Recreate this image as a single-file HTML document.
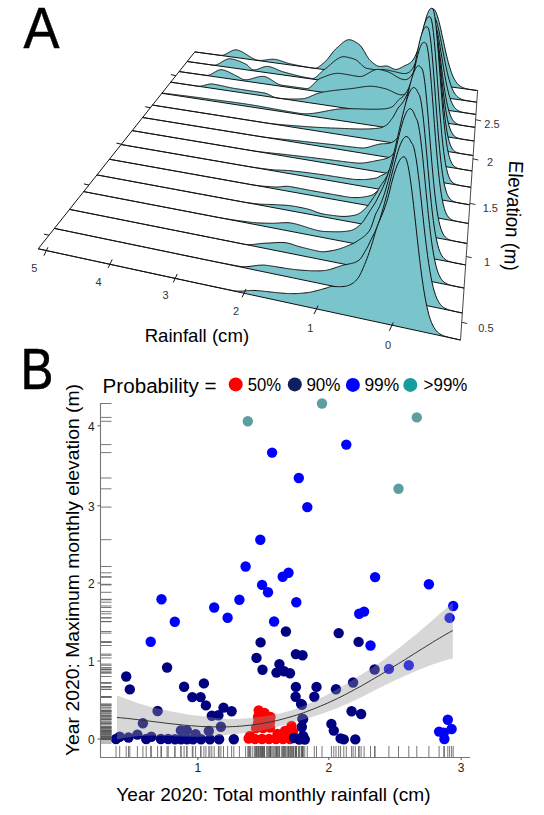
<!DOCTYPE html>
<html><head><meta charset="utf-8"><style>
html,body{margin:0;padding:0;background:#fff;}
svg{display:block;}
text{font-family:"Liberation Sans",sans-serif;}
.tk{font-size:12px;fill:#222;}
.tkA{font-size:11px;fill:#333;}
</style></head><body>
<svg width="544" height="815" viewBox="0 0 544 815">
<rect width="544" height="815" fill="#fff"/>
<path d="M194.80,51.90 L194.80,51.90 L195.45,51.98 L196.09,52.07 L196.74,52.16 L197.39,52.25 L198.03,52.33 L198.68,52.42 L199.33,52.51 L199.98,52.60 L200.63,52.68 L201.28,52.77 L201.92,52.86 L202.57,52.95 L203.22,53.03 L203.87,53.12 L204.52,53.21 L205.17,53.29 L205.83,53.38 L206.48,53.47 L207.13,53.55 L207.78,53.64 L208.43,53.73 L209.08,53.82 L209.74,53.90 L210.39,53.99 L211.04,54.08 L211.70,54.16 L212.35,54.25 L213.00,54.33 L213.66,54.42 L214.31,54.51 L214.97,54.59 L215.62,54.68 L216.28,54.77 L216.93,54.85 L217.59,54.94 L218.25,55.02 L218.90,55.11 L219.56,55.19 L220.22,55.28 L220.88,55.36 L221.53,55.38 L222.19,55.33 L222.85,55.22 L223.51,55.05 L224.17,54.83 L224.83,54.57 L225.49,54.27 L226.15,53.94 L226.81,53.58 L227.47,53.21 L228.13,52.83 L228.79,52.45 L229.45,52.07 L230.11,51.70 L230.77,51.34 L231.44,51.00 L232.10,50.70 L232.76,50.43 L233.43,50.20 L234.09,50.03 L234.75,49.90 L235.42,49.84 L236.08,49.85 L236.75,49.93 L237.41,50.06 L238.08,50.23 L238.74,50.43 L239.41,50.66 L240.07,50.93 L240.74,51.22 L241.41,51.54 L242.07,51.88 L242.74,52.24 L243.41,52.62 L244.08,53.02 L244.75,53.42 L245.41,53.84 L246.08,54.27 L246.75,54.70 L247.42,55.13 L248.09,55.56 L248.76,55.99 L249.43,56.42 L250.10,56.83 L250.77,57.24 L251.45,57.63 L252.12,58.01 L252.79,58.37 L253.46,58.70 L254.13,59.02 L254.81,59.31 L255.48,59.57 L256.15,59.79 L256.83,59.99 L257.50,60.15 L258.18,60.27 L258.85,60.35 L259.52,60.40 L260.20,60.42 L260.88,60.43 L261.55,60.41 L262.23,60.37 L262.90,60.31 L263.58,60.24 L264.26,60.16 L264.94,60.07 L265.61,59.97 L266.29,59.87 L266.97,59.77 L267.65,59.67 L268.33,59.58 L269.01,59.49 L269.69,59.41 L270.37,59.34 L271.05,59.29 L271.73,59.25 L272.41,59.23 L273.09,59.23 L273.77,59.26 L274.45,59.32 L275.13,59.40 L275.82,59.51 L276.50,59.64 L277.18,59.79 L277.86,59.96 L278.55,60.14 L279.23,60.33 L279.92,60.54 L280.60,60.76 L281.29,60.98 L281.97,61.21 L282.66,61.45 L283.34,61.69 L284.03,61.93 L284.72,62.17 L285.40,62.40 L286.09,62.63 L286.78,62.85 L287.46,63.07 L288.15,63.27 L288.84,63.46 L289.53,63.64 L290.22,63.80 L290.91,63.95 L291.60,64.09 L292.29,64.24 L292.98,64.38 L293.67,64.53 L294.36,64.67 L295.05,64.82 L295.74,64.96 L296.43,65.10 L297.12,65.24 L297.82,65.38 L298.51,65.52 L299.20,65.66 L299.90,65.79 L300.59,65.93 L301.28,66.06 L301.98,66.20 L302.67,66.33 L303.37,66.46 L304.06,66.59 L304.76,66.72 L305.45,66.84 L306.15,66.96 L306.85,67.09 L307.54,67.21 L308.24,67.32 L308.94,67.44 L309.64,67.55 L310.33,67.66 L311.03,67.77 L311.73,67.88 L312.43,67.99 L313.13,68.09 L313.83,68.19 L314.53,68.28 L315.23,68.31 L315.93,68.22 L316.63,68.03 L317.33,67.74 L318.04,67.38 L318.74,66.94 L319.44,66.45 L320.14,65.91 L320.85,65.34 L321.55,64.74 L322.25,64.13 L322.96,63.53 L323.66,62.93 L324.37,62.36 L325.07,61.75 L325.78,61.07 L326.48,60.32 L327.19,59.52 L327.89,58.66 L328.60,57.77 L329.31,56.86 L330.01,55.92 L330.72,54.98 L331.43,54.04 L332.14,53.11 L332.85,52.20 L333.56,51.33 L334.27,50.50 L334.97,49.71 L335.68,48.99 L336.39,48.34 L337.11,47.74 L337.82,47.11 L338.53,46.47 L339.24,45.82 L339.95,45.17 L340.66,44.52 L341.38,43.88 L342.09,43.26 L342.80,42.67 L343.52,42.11 L344.23,41.60 L344.94,41.12 L345.66,40.71 L346.37,40.35 L347.09,40.07 L347.80,39.86 L348.52,39.73 L349.24,39.69 L349.95,39.75 L350.67,39.88 L351.39,40.07 L352.10,40.31 L352.82,40.60 L353.54,40.93 L354.26,41.30 L354.98,41.70 L355.70,42.13 L356.42,42.58 L357.14,43.05 L357.86,43.54 L358.58,44.03 L359.30,44.55 L360.02,45.22 L360.74,46.04 L361.46,46.98 L362.18,48.03 L362.91,49.16 L363.63,50.35 L364.35,51.59 L365.08,52.84 L365.80,54.10 L366.52,55.34 L367.25,56.54 L367.97,57.68 L368.70,58.74 L369.43,59.70 L370.15,60.53 L370.88,61.22 L371.60,61.82 L372.33,62.42 L373.06,63.02 L373.79,63.60 L374.51,64.15 L375.24,64.67 L375.97,65.14 L376.70,65.55 L377.43,65.90 L378.16,66.17 L378.89,66.35 L379.62,66.44 L380.35,66.46 L381.08,66.44 L381.81,66.37 L382.55,66.29 L383.28,66.19 L384.01,66.10 L384.74,66.02 L385.48,65.98 L386.21,65.98 L386.94,66.04 L387.68,66.19 L388.41,66.42 L389.15,66.73 L389.88,67.08 L390.62,67.47 L391.35,67.87 L392.09,68.26 L392.83,68.62 L393.56,68.94 L394.30,69.19 L395.04,69.36 L395.78,69.43 L396.52,69.39 L397.25,69.26 L397.99,69.05 L398.73,68.78 L399.47,68.46 L400.21,68.10 L400.95,67.71 L401.69,67.30 L402.44,66.89 L403.18,66.48 L403.92,66.08 L404.66,65.71 L405.40,65.36 L406.15,65.04 L406.89,64.73 L407.63,64.40 L408.38,64.03 L409.12,63.60 L409.87,63.11 L410.61,62.52 L411.36,61.84 L412.10,61.04 L412.85,60.10 L413.60,59.01 L414.34,57.77 L415.09,56.35 L415.84,54.76 L416.59,52.98 L417.33,51.04 L418.08,49.10 L418.83,47.18 L419.58,45.22 L420.33,43.20 L421.08,41.09 L421.83,38.85 L422.58,36.47 L423.33,33.93 L424.09,31.21 L424.84,28.31 L425.59,25.29 L426.34,22.41 L427.09,19.70 L427.85,17.21 L428.60,14.98 L429.36,13.05 L430.11,11.44 L430.87,10.20 L431.62,9.33 L432.38,8.86 L433.13,8.80 L433.89,9.15 L434.64,9.93 L435.40,11.13 L436.16,12.71 L436.92,14.66 L437.67,16.96 L438.43,19.56 L439.19,22.42 L439.95,25.51 L440.71,28.77 L441.47,32.18 L442.23,35.67 L442.99,39.22 L443.75,42.77 L444.51,46.30 L445.27,49.76 L446.04,53.12 L446.80,56.37 L447.56,59.47 L448.33,62.40 L449.09,65.17 L449.85,67.74 L450.62,70.13 L451.38,72.33 L452.15,74.34 L452.91,76.17 L453.68,77.82 L454.44,79.29 L455.21,80.61 L455.98,81.78 L456.74,82.82 L457.51,83.73 L458.28,84.53 L459.05,85.23 L459.82,85.84 L460.59,86.37 L461.36,86.83 L462.13,87.23 L462.90,87.58 L463.67,87.89 L464.44,88.16 L465.21,88.40 L465.98,88.61 L466.75,88.80 L467.52,88.98 L468.30,89.14 L469.07,89.29 L469.84,89.43 L470.62,89.56 L471.39,89.69 L472.17,89.81 L472.94,89.93 L473.72,90.04 L474.49,90.16 L475.27,90.27 L476.05,90.38 L476.82,90.49 L477.60,90.59 L477.60,90.60 Z" fill="#7ac4cc" stroke="#111" stroke-width="1"/>
<path d="M187.17,61.50 L187.17,61.50 L187.83,61.59 L188.49,61.68 L189.15,61.78 L189.81,61.87 L190.47,61.96 L191.13,62.05 L191.80,62.15 L192.46,62.24 L193.12,62.33 L193.78,62.43 L194.45,62.52 L195.11,62.61 L195.77,62.71 L196.44,62.80 L197.10,62.89 L197.77,62.99 L198.43,63.08 L199.10,63.17 L199.76,63.27 L200.43,63.36 L201.10,63.45 L201.76,63.55 L202.43,63.64 L203.10,63.74 L203.77,63.83 L204.43,63.92 L205.10,64.02 L205.77,64.11 L206.44,64.20 L207.11,64.30 L207.78,64.39 L208.45,64.49 L209.12,64.58 L209.79,64.68 L210.46,64.77 L211.13,64.86 L211.80,64.96 L212.47,65.05 L213.14,65.15 L213.82,65.20 L214.49,65.18 L215.16,65.10 L215.83,64.95 L216.51,64.75 L217.18,64.50 L217.86,64.21 L218.53,63.89 L219.20,63.53 L219.88,63.15 L220.55,62.76 L221.23,62.35 L221.91,61.93 L222.58,61.52 L223.26,61.11 L223.94,60.71 L224.61,60.34 L225.29,59.98 L225.97,59.66 L226.65,59.38 L227.32,59.13 L228.00,58.94 L228.68,58.80 L229.36,58.73 L230.04,58.72 L230.72,58.78 L231.40,58.88 L232.08,59.00 L232.76,59.14 L233.44,59.30 L234.13,59.47 L234.81,59.65 L235.49,59.85 L236.17,60.06 L236.85,60.29 L237.54,60.52 L238.22,60.77 L238.90,61.03 L239.59,61.30 L240.27,61.58 L240.96,61.86 L241.64,62.16 L242.33,62.46 L243.01,62.77 L243.70,63.09 L244.39,63.41 L245.07,63.74 L245.76,64.07 L246.45,64.43 L247.13,64.92 L247.82,65.54 L248.51,66.23 L249.20,66.96 L249.89,67.68 L250.58,68.37 L251.27,68.96 L251.96,69.43 L252.65,69.73 L253.34,69.84 L254.03,69.87 L254.72,69.84 L255.41,69.76 L256.10,69.64 L256.79,69.47 L257.48,69.27 L258.18,69.04 L258.87,68.80 L259.56,68.53 L260.26,68.26 L260.95,67.98 L261.65,67.71 L262.34,67.44 L263.04,67.20 L263.73,66.97 L264.43,66.77 L265.12,66.61 L265.82,66.49 L266.51,66.41 L267.21,66.39 L267.91,66.42 L268.61,66.52 L269.30,66.65 L270.00,66.81 L270.70,67.00 L271.40,67.21 L272.10,67.44 L272.80,67.69 L273.50,67.96 L274.20,68.24 L274.90,68.53 L275.60,68.83 L276.30,69.14 L277.00,69.45 L277.70,69.75 L278.41,70.06 L279.11,70.36 L279.81,70.65 L280.51,70.93 L281.22,71.20 L281.92,71.46 L282.62,71.69 L283.33,71.90 L284.03,72.10 L284.74,72.29 L285.44,72.48 L286.15,72.67 L286.86,72.87 L287.56,73.06 L288.27,73.25 L288.98,73.44 L289.68,73.63 L290.39,73.82 L291.10,74.01 L291.81,74.19 L292.52,74.38 L293.22,74.57 L293.93,74.75 L294.64,74.93 L295.35,75.11 L296.06,75.29 L296.78,75.46 L297.49,75.64 L298.20,75.81 L298.91,75.98 L299.62,76.14 L300.33,76.31 L301.05,76.47 L301.76,76.63 L302.47,76.78 L303.19,76.94 L303.90,77.09 L304.61,77.23 L305.33,77.37 L306.04,77.51 L306.76,77.65 L307.48,77.78 L308.19,77.90 L308.91,78.03 L309.63,78.14 L310.34,78.26 L311.06,78.37 L311.78,78.47 L312.50,78.53 L313.21,78.46 L313.93,78.26 L314.65,77.95 L315.37,77.54 L316.09,77.05 L316.81,76.48 L317.53,75.85 L318.25,75.17 L318.97,74.46 L319.70,73.73 L320.42,73.00 L321.14,72.27 L321.86,71.56 L322.58,70.89 L323.31,70.26 L324.03,69.70 L324.76,69.19 L325.48,68.67 L326.20,68.12 L326.93,67.55 L327.65,66.96 L328.38,66.35 L329.11,65.73 L329.83,65.10 L330.56,64.46 L331.29,63.82 L332.01,63.19 L332.74,62.56 L333.47,61.95 L334.20,61.35 L334.93,60.77 L335.66,60.21 L336.39,59.67 L337.12,59.17 L337.85,58.71 L338.58,58.28 L339.31,57.89 L340.04,57.55 L340.77,57.26 L341.50,57.03 L342.23,56.85 L342.97,56.74 L343.70,56.69 L344.43,56.71 L345.17,56.80 L345.90,56.92 L346.63,57.05 L347.37,57.20 L348.10,57.36 L348.84,57.54 L349.58,57.72 L350.31,57.92 L351.05,58.13 L351.79,58.35 L352.52,58.57 L353.26,58.81 L354.00,59.04 L354.74,59.29 L355.47,59.61 L356.21,60.04 L356.95,60.56 L357.69,61.15 L358.43,61.80 L359.17,62.49 L359.91,63.20 L360.65,63.93 L361.40,64.65 L362.14,65.36 L362.88,66.02 L363.62,66.64 L364.37,67.19 L365.11,67.66 L365.85,68.04 L366.60,68.30 L367.34,68.45 L368.09,68.60 L368.83,68.74 L369.58,68.87 L370.32,69.01 L371.07,69.14 L371.81,69.27 L372.56,69.39 L373.31,69.51 L374.06,69.63 L374.80,69.74 L375.55,69.85 L376.30,69.96 L377.05,70.06 L377.80,70.06 L378.55,69.98 L379.30,69.84 L380.05,69.67 L380.80,69.52 L381.55,69.41 L382.30,69.38 L383.05,69.45 L383.81,69.55 L384.56,69.66 L385.31,69.78 L386.07,69.90 L386.82,70.03 L387.57,70.16 L388.33,70.30 L389.08,70.45 L389.84,70.60 L390.59,70.75 L391.35,70.92 L392.11,71.09 L392.86,71.26 L393.62,71.44 L394.38,71.62 L395.13,71.81 L395.89,72.00 L396.65,72.19 L397.41,72.38 L398.17,72.57 L398.93,72.75 L399.69,72.93 L400.45,73.09 L401.21,73.24 L401.97,73.37 L402.73,73.47 L403.49,73.54 L404.26,73.57 L405.02,73.55 L405.78,73.48 L406.55,73.33 L407.31,73.11 L408.07,72.80 L408.84,72.39 L409.60,71.87 L410.37,71.21 L411.13,70.42 L411.90,69.48 L412.67,68.38 L413.43,67.11 L414.20,65.65 L414.97,64.01 L415.73,62.19 L416.50,60.17 L417.27,57.97 L418.04,55.60 L418.81,53.06 L419.58,50.37 L420.35,47.56 L421.12,44.64 L421.89,41.66 L422.66,38.64 L423.43,35.63 L424.21,32.66 L424.98,29.78 L425.75,27.04 L426.52,24.49 L427.30,22.16 L428.07,20.11 L428.85,18.38 L429.62,17.01 L430.40,16.03 L431.17,15.47 L431.95,15.35 L432.72,15.69 L433.50,16.16 L434.28,16.80 L435.05,17.97 L435.83,19.67 L436.61,21.86 L437.39,24.50 L438.17,27.54 L438.95,30.92 L439.72,34.59 L440.50,38.47 L441.29,42.51 L442.07,46.64 L442.85,50.80 L443.63,54.94 L444.41,58.99 L445.19,62.93 L445.98,66.71 L446.76,70.29 L447.54,73.66 L448.33,76.79 L449.11,79.68 L449.89,82.32 L450.68,84.72 L451.47,86.87 L452.25,88.79 L453.04,90.49 L453.82,91.99 L454.61,93.29 L455.40,94.43 L456.19,95.41 L456.97,96.25 L457.76,96.98 L458.55,97.59 L459.34,98.12 L460.13,98.57 L460.92,98.96 L461.71,99.29 L462.50,99.58 L463.29,99.83 L464.08,100.05 L464.88,100.25 L465.67,100.43 L466.46,100.59 L467.26,100.74 L468.05,100.88 L468.84,101.01 L469.64,101.14 L470.43,101.27 L471.23,101.39 L472.02,101.50 L472.82,101.62 L473.62,101.74 L474.41,101.85 L475.21,101.96 L476.01,102.08 L476.81,102.19 L476.81,102.19 Z" fill="#7ac4cc" stroke="#111" stroke-width="1"/>
<path d="M179.15,71.57 L179.15,71.57 L179.83,71.66 L180.50,71.76 L181.18,71.85 L181.85,71.95 L182.53,72.04 L183.21,72.14 L183.88,72.24 L184.56,72.33 L185.24,72.43 L185.92,72.52 L186.59,72.62 L187.27,72.71 L187.95,72.80 L188.63,72.90 L189.31,72.99 L189.99,73.09 L190.67,73.18 L191.35,73.28 L192.03,73.37 L192.71,73.46 L193.39,73.56 L194.08,73.65 L194.76,73.74 L195.44,73.84 L196.12,73.93 L196.80,74.02 L197.49,74.11 L198.17,74.21 L198.86,74.30 L199.54,74.39 L200.22,74.48 L200.91,74.57 L201.59,74.66 L202.28,74.76 L202.97,74.85 L203.65,74.94 L204.34,75.03 L205.02,75.12 L205.71,75.21 L206.40,75.30 L207.09,75.37 L207.78,75.35 L208.46,75.25 L209.15,75.08 L209.84,74.85 L210.53,74.56 L211.22,74.23 L211.91,73.86 L212.60,73.46 L213.29,73.05 L213.98,72.62 L214.67,72.19 L215.37,71.77 L216.06,71.37 L216.75,70.98 L217.44,70.63 L218.14,70.33 L218.83,70.07 L219.52,69.87 L220.22,69.74 L220.91,69.68 L221.60,69.71 L222.30,69.82 L222.99,69.96 L223.69,70.13 L224.39,70.32 L225.08,70.54 L225.78,70.79 L226.48,71.05 L227.17,71.34 L227.87,71.64 L228.57,71.96 L229.27,72.29 L229.97,72.63 L230.66,72.98 L231.36,73.34 L232.06,73.70 L232.76,74.07 L233.46,74.43 L234.16,74.79 L234.86,75.16 L235.57,75.51 L236.27,75.86 L236.97,76.20 L237.67,76.52 L238.37,76.88 L239.08,77.28 L239.78,77.70 L240.48,78.12 L241.19,78.53 L241.89,78.90 L242.60,79.23 L243.30,79.48 L244.01,79.65 L244.71,79.73 L245.42,79.78 L246.12,79.78 L246.83,79.74 L247.54,79.68 L248.24,79.58 L248.95,79.45 L249.66,79.30 L250.37,79.13 L251.08,78.95 L251.78,78.75 L252.49,78.54 L253.20,78.32 L253.91,78.10 L254.62,77.87 L255.33,77.66 L256.05,77.44 L256.76,77.24 L257.47,77.05 L258.18,76.87 L258.89,76.72 L259.60,76.59 L260.32,76.48 L261.03,76.40 L261.74,76.36 L262.46,76.35 L263.17,76.38 L263.89,76.46 L264.60,76.59 L265.32,76.77 L266.03,77.00 L266.75,77.28 L267.47,77.61 L268.18,77.97 L268.90,78.36 L269.62,78.78 L270.34,79.22 L271.05,79.68 L271.77,80.15 L272.49,80.62 L273.21,81.10 L273.93,81.58 L274.65,82.05 L275.37,82.50 L276.09,82.94 L276.81,83.36 L277.53,83.74 L278.25,84.10 L278.98,84.42 L279.70,84.69 L280.42,84.92 L281.14,85.09 L281.87,85.21 L282.59,85.31 L283.31,85.42 L284.04,85.52 L284.76,85.62 L285.49,85.73 L286.21,85.83 L286.94,85.93 L287.67,86.04 L288.39,86.14 L289.12,86.24 L289.85,86.35 L290.57,86.45 L291.30,86.55 L292.03,86.65 L292.76,86.76 L293.49,86.86 L294.22,86.96 L294.95,87.06 L295.68,87.16 L296.41,87.26 L297.14,87.37 L297.87,87.47 L298.60,87.57 L299.33,87.67 L300.06,87.77 L300.80,87.87 L301.53,87.97 L302.26,88.07 L303.00,88.17 L303.73,88.27 L304.46,88.37 L305.20,88.47 L305.93,88.57 L306.67,88.65 L307.40,88.61 L308.14,88.43 L308.88,88.12 L309.61,87.69 L310.35,87.17 L311.09,86.57 L311.83,85.91 L312.56,85.19 L313.30,84.43 L314.04,83.66 L314.78,82.88 L315.52,82.11 L316.26,81.37 L317.00,80.66 L317.74,80.01 L318.48,79.44 L319.22,78.95 L319.96,78.56 L320.71,78.26 L321.45,77.95 L322.19,77.64 L322.94,77.33 L323.68,77.03 L324.42,76.72 L325.17,76.42 L325.91,76.13 L326.66,75.84 L327.40,75.56 L328.15,75.30 L328.89,75.04 L329.64,74.79 L330.39,74.56 L331.14,74.35 L331.88,74.15 L332.63,73.97 L333.38,73.80 L334.13,73.66 L334.88,73.54 L335.63,73.44 L336.38,73.37 L337.13,73.33 L337.88,73.31 L338.63,73.32 L339.38,73.36 L340.13,73.43 L340.88,73.53 L341.63,73.64 L342.39,73.75 L343.14,73.87 L343.89,73.99 L344.65,74.12 L345.40,74.25 L346.16,74.38 L346.91,74.52 L347.67,74.65 L348.42,74.79 L349.18,74.93 L349.94,75.07 L350.69,75.21 L351.45,75.34 L352.21,75.48 L352.96,75.62 L353.72,75.75 L354.48,75.88 L355.24,76.01 L356.00,76.13 L356.76,76.25 L357.52,76.36 L358.28,76.47 L359.04,76.57 L359.80,76.58 L360.57,76.53 L361.33,76.41 L362.09,76.23 L362.85,75.99 L363.62,75.70 L364.38,75.38 L365.14,75.01 L365.91,74.62 L366.67,74.20 L367.44,73.77 L368.20,73.32 L368.97,72.87 L369.74,72.42 L370.50,71.98 L371.27,71.55 L372.04,71.15 L372.80,70.76 L373.57,70.42 L374.34,70.11 L375.11,69.85 L375.88,69.64 L376.65,69.48 L377.42,69.40 L378.19,69.38 L378.96,69.44 L379.73,69.56 L380.50,69.70 L381.27,69.86 L382.05,70.04 L382.82,70.24 L383.59,70.45 L384.37,70.68 L385.14,70.91 L385.91,71.15 L386.69,71.40 L387.46,71.65 L388.24,71.93 L389.02,72.25 L389.79,72.61 L390.57,73.00 L391.35,73.41 L392.12,73.85 L392.90,74.31 L393.68,74.79 L394.46,75.27 L395.24,75.76 L396.02,76.24 L396.79,76.72 L397.58,77.18 L398.36,77.62 L399.14,78.03 L399.92,78.40 L400.70,78.73 L401.48,79.03 L402.26,79.27 L403.05,79.47 L403.83,79.60 L404.61,79.66 L405.40,79.65 L406.18,79.53 L406.97,79.32 L407.75,78.99 L408.54,78.53 L409.32,77.93 L410.11,77.18 L410.90,76.27 L411.68,75.19 L412.47,73.93 L413.26,72.49 L414.05,70.85 L414.84,69.02 L415.63,67.01 L416.42,64.81 L417.21,62.43 L418.00,59.89 L418.79,57.20 L419.58,54.39 L420.37,51.47 L421.16,48.48 L421.95,45.45 L422.75,42.43 L423.54,39.43 L424.33,36.52 L425.13,33.72 L425.92,31.10 L426.72,28.68 L427.51,26.51 L428.31,24.63 L429.10,23.08 L429.90,21.90 L430.70,21.11 L431.49,20.74 L432.29,20.80 L433.09,21.31 L433.89,21.79 L434.69,22.88 L435.48,24.71 L436.28,27.22 L437.08,30.36 L437.88,34.06 L438.69,38.22 L439.49,42.75 L440.29,47.55 L441.09,52.53 L441.89,57.58 L442.70,62.62 L443.50,67.57 L444.30,72.36 L445.11,76.92 L445.91,81.21 L446.72,85.19 L447.52,88.85 L448.33,92.17 L449.13,95.15 L449.94,97.79 L450.75,100.11 L451.55,102.14 L452.36,103.88 L453.17,105.38 L453.98,106.65 L454.79,107.72 L455.60,108.62 L456.41,109.37 L457.22,109.99 L458.03,110.51 L458.84,110.95 L459.65,111.32 L460.46,111.63 L461.27,111.89 L462.09,112.12 L462.90,112.32 L463.71,112.50 L464.53,112.66 L465.34,112.81 L466.16,112.95 L466.97,113.09 L467.79,113.22 L468.60,113.34 L469.42,113.47 L470.24,113.59 L471.05,113.71 L471.87,113.83 L472.69,113.95 L473.51,114.07 L474.33,114.19 L475.15,114.31 L475.97,114.42 L475.97,114.42 Z" fill="#7ac4cc" stroke="#111" stroke-width="1"/>
<path d="M170.73,82.17 L170.73,82.17 L171.42,82.27 L172.11,82.38 L172.80,82.48 L173.49,82.58 L174.18,82.68 L174.87,82.79 L175.56,82.89 L176.26,82.99 L176.95,83.09 L177.64,83.20 L178.34,83.30 L179.03,83.40 L179.73,83.51 L180.42,83.61 L181.12,83.71 L181.81,83.82 L182.51,83.92 L183.20,84.02 L183.90,84.13 L184.59,84.23 L185.29,84.33 L185.99,84.44 L186.69,84.54 L187.38,84.64 L188.08,84.75 L188.78,84.85 L189.48,84.95 L190.18,85.06 L190.88,85.16 L191.58,85.27 L192.28,85.37 L192.98,85.47 L193.68,85.58 L194.38,85.68 L195.08,85.79 L195.79,85.89 L196.49,85.99 L197.19,86.10 L197.89,86.19 L198.60,86.23 L199.30,86.23 L200.01,86.19 L200.71,86.11 L201.41,86.00 L202.12,85.86 L202.83,85.70 L203.53,85.53 L204.24,85.34 L204.94,85.15 L205.65,84.96 L206.36,84.77 L207.06,84.58 L207.77,84.42 L208.48,84.27 L209.19,84.14 L209.90,84.04 L210.61,83.98 L211.32,83.95 L212.03,83.97 L212.74,84.04 L213.45,84.14 L214.16,84.26 L214.87,84.37 L215.58,84.50 L216.29,84.63 L217.01,84.77 L217.72,84.91 L218.43,85.05 L219.14,85.20 L219.86,85.35 L220.57,85.50 L221.29,85.66 L222.00,85.82 L222.72,85.98 L223.43,86.14 L224.15,86.30 L224.86,86.46 L225.58,86.63 L226.30,86.79 L227.01,86.95 L227.73,87.11 L228.45,87.26 L229.17,87.42 L229.89,87.57 L230.60,87.71 L231.32,87.86 L232.04,88.00 L232.76,88.13 L233.48,88.26 L234.20,88.39 L234.92,88.50 L235.65,88.62 L236.37,88.73 L237.09,88.84 L237.81,88.95 L238.53,89.06 L239.26,89.17 L239.98,89.28 L240.71,89.39 L241.43,89.50 L242.15,89.61 L242.88,89.72 L243.60,89.83 L244.33,89.93 L245.06,90.04 L245.78,90.15 L246.51,90.26 L247.24,90.37 L247.96,90.48 L248.69,90.59 L249.42,90.69 L250.15,90.80 L250.88,90.91 L251.60,91.02 L252.33,91.13 L253.06,91.24 L253.79,91.35 L254.52,91.46 L255.26,91.57 L255.99,91.68 L256.72,91.79 L257.45,91.90 L258.18,92.01 L258.92,92.12 L259.65,92.23 L260.38,92.35 L261.12,92.46 L261.85,92.57 L262.58,92.68 L263.32,92.80 L264.05,92.92 L264.79,93.07 L265.53,93.28 L266.26,93.52 L267.00,93.81 L267.74,94.12 L268.47,94.46 L269.21,94.81 L269.95,95.17 L270.69,95.54 L271.43,95.91 L272.17,96.26 L272.91,96.61 L273.65,96.93 L274.39,97.22 L275.13,97.48 L275.87,97.70 L276.61,97.88 L277.35,98.00 L278.09,98.10 L278.84,98.20 L279.58,98.29 L280.32,98.38 L281.07,98.46 L281.81,98.53 L282.55,98.60 L283.30,98.66 L284.04,98.72 L284.79,98.77 L285.54,98.82 L286.28,98.86 L287.03,98.90 L287.78,98.93 L288.52,98.96 L289.27,98.98 L290.02,99.00 L290.77,99.02 L291.52,99.03 L292.26,99.04 L293.01,99.04 L293.76,99.04 L294.51,99.03 L295.27,99.03 L296.02,99.02 L296.77,99.00 L297.52,98.99 L298.27,98.97 L299.02,98.95 L299.78,98.92 L300.53,98.90 L301.28,98.87 L302.04,98.84 L302.79,98.78 L303.55,98.68 L304.30,98.55 L305.06,98.38 L305.81,98.17 L306.57,97.94 L307.33,97.68 L308.08,97.40 L308.84,97.10 L309.60,96.79 L310.36,96.46 L311.12,96.13 L311.88,95.79 L312.64,95.45 L313.39,95.11 L314.16,94.77 L314.92,94.45 L315.68,94.13 L316.44,93.83 L317.20,93.55 L317.96,93.28 L318.72,93.05 L319.49,92.84 L320.25,92.66 L321.01,92.50 L321.78,92.35 L322.54,92.20 L323.31,92.05 L324.07,91.91 L324.84,91.78 L325.60,91.65 L326.37,91.52 L327.14,91.40 L327.90,91.28 L328.67,91.16 L329.44,91.05 L330.21,90.94 L330.97,90.83 L331.74,90.73 L332.51,90.63 L333.28,90.54 L334.05,90.44 L334.82,90.35 L335.59,90.26 L336.37,90.17 L337.14,90.08 L337.91,90.00 L338.68,89.92 L339.45,89.84 L340.23,89.75 L341.00,89.68 L341.78,89.60 L342.55,89.52 L343.32,89.44 L344.10,89.36 L344.88,89.29 L345.65,89.21 L346.43,89.13 L347.20,89.05 L347.98,88.97 L348.76,88.89 L349.54,88.81 L350.32,88.73 L351.09,88.65 L351.87,88.56 L352.65,88.46 L353.43,88.35 L354.21,88.24 L354.99,88.12 L355.78,88.00 L356.56,87.87 L357.34,87.74 L358.12,87.61 L358.90,87.48 L359.69,87.36 L360.47,87.23 L361.25,87.11 L362.04,86.99 L362.82,86.87 L363.61,86.76 L364.39,86.66 L365.18,86.57 L365.97,86.49 L366.75,86.41 L367.54,86.35 L368.33,86.30 L369.11,86.27 L369.90,86.25 L370.69,86.24 L371.48,86.26 L372.27,86.29 L373.06,86.34 L373.85,86.41 L374.64,86.50 L375.43,86.61 L376.22,86.74 L377.02,86.87 L377.81,87.02 L378.60,87.17 L379.39,87.33 L380.19,87.51 L380.98,87.68 L381.78,87.87 L382.57,88.05 L383.37,88.25 L384.16,88.44 L384.96,88.64 L385.75,88.85 L386.55,89.11 L387.35,89.39 L388.15,89.70 L388.94,90.04 L389.74,90.40 L390.54,90.77 L391.34,91.16 L392.14,91.56 L392.94,91.96 L393.74,92.36 L394.54,92.76 L395.34,93.14 L396.14,93.50 L396.95,93.83 L397.75,94.13 L398.55,94.38 L399.36,94.59 L400.16,94.73 L400.96,94.81 L401.77,94.82 L402.57,94.77 L403.38,94.63 L404.18,94.39 L404.99,94.05 L405.80,93.59 L406.60,93.00 L407.41,92.28 L408.22,91.40 L409.03,90.36 L409.84,89.15 L410.65,87.76 L411.46,86.18 L412.27,84.41 L413.08,82.45 L413.89,80.29 L414.70,77.94 L415.51,75.41 L416.32,72.69 L417.14,69.82 L417.95,66.80 L418.76,63.66 L419.58,60.42 L420.39,57.10 L421.20,53.75 L422.02,50.39 L422.84,47.07 L423.65,43.82 L424.47,40.69 L425.28,37.71 L426.10,34.94 L426.92,32.41 L427.74,30.15 L428.56,28.22 L429.37,26.64 L430.19,25.45 L431.01,24.66 L431.83,24.30 L432.65,24.39 L433.48,24.85 L434.30,25.67 L435.12,27.57 L435.94,30.50 L436.76,34.36 L437.59,39.02 L438.41,44.35 L439.23,50.19 L440.06,56.37 L440.88,62.72 L441.71,69.11 L442.54,75.38 L443.36,81.43 L444.19,87.14 L445.02,92.45 L445.84,97.30 L446.67,101.66 L447.50,105.54 L448.33,108.92 L449.16,111.84 L449.99,114.33 L450.82,116.42 L451.65,118.16 L452.48,119.60 L453.31,120.77 L454.14,121.72 L454.97,122.49 L455.81,123.11 L456.64,123.61 L457.47,124.02 L458.31,124.35 L459.14,124.63 L459.98,124.86 L460.81,125.06 L461.65,125.24 L462.48,125.40 L463.32,125.55 L464.16,125.70 L465.00,125.83 L465.83,125.97 L466.67,126.09 L467.51,126.22 L468.35,126.35 L469.19,126.48 L470.03,126.60 L470.87,126.73 L471.71,126.85 L472.55,126.98 L473.39,127.10 L474.24,127.23 L475.08,127.35 L475.08,127.35 Z" fill="#7ac4cc" stroke="#111" stroke-width="1"/>
<path d="M161.85,93.32 L161.85,93.01 L162.56,93.09 L163.27,93.17 L163.97,93.25 L164.68,93.34 L165.39,93.42 L166.10,93.50 L166.81,93.59 L167.51,93.67 L168.22,93.76 L168.93,93.84 L169.64,93.93 L170.35,94.01 L171.06,94.10 L171.77,94.18 L172.49,94.27 L173.20,94.35 L173.91,94.44 L174.62,94.53 L175.33,94.61 L176.05,94.70 L176.76,94.79 L177.47,94.88 L178.19,94.97 L178.90,95.05 L179.62,95.14 L180.33,95.23 L181.05,95.32 L181.76,95.41 L182.48,95.50 L183.20,95.59 L183.91,95.68 L184.63,95.77 L185.35,95.86 L186.07,95.96 L186.78,96.05 L187.50,96.14 L188.22,96.23 L188.94,96.33 L189.66,96.42 L190.38,96.51 L191.10,96.61 L191.82,96.70 L192.54,96.79 L193.27,96.89 L193.99,96.98 L194.71,97.08 L195.43,97.17 L196.15,97.27 L196.88,97.37 L197.60,97.46 L198.33,97.56 L199.05,97.66 L199.77,97.76 L200.50,97.86 L201.23,97.95 L201.95,98.05 L202.68,98.15 L203.40,98.25 L204.13,98.35 L204.86,98.45 L205.59,98.55 L206.31,98.65 L207.04,98.75 L207.77,98.85 L208.50,98.95 L209.23,99.05 L209.96,99.15 L210.69,99.25 L211.42,99.35 L212.15,99.44 L212.88,99.54 L213.61,99.64 L214.34,99.74 L215.08,99.84 L215.81,99.94 L216.54,100.03 L217.28,100.13 L218.01,100.23 L218.74,100.32 L219.48,100.42 L220.21,100.51 L220.95,100.61 L221.68,100.70 L222.42,100.80 L223.16,100.90 L223.89,100.99 L224.63,101.09 L225.37,101.18 L226.11,101.28 L226.84,101.37 L227.58,101.47 L228.32,101.57 L229.06,101.66 L229.80,101.76 L230.54,101.86 L231.28,101.95 L232.02,102.05 L232.76,102.15 L233.50,102.25 L234.25,102.35 L234.99,102.45 L235.73,102.55 L236.47,102.65 L237.22,102.75 L237.96,102.86 L238.71,102.96 L239.45,103.06 L240.19,103.17 L240.94,103.27 L241.69,103.38 L242.43,103.49 L243.18,103.60 L243.93,103.71 L244.67,103.82 L245.42,103.93 L246.17,104.04 L246.92,104.16 L247.66,104.27 L248.41,104.39 L249.16,104.51 L249.91,104.63 L250.66,104.75 L251.41,104.87 L252.16,105.00 L252.92,105.12 L253.67,105.25 L254.42,105.37 L255.17,105.50 L255.92,105.63 L256.68,105.76 L257.43,105.89 L258.19,106.02 L258.94,106.15 L259.69,106.28 L260.45,106.42 L261.21,106.55 L261.96,106.69 L262.72,106.82 L263.47,106.96 L264.23,107.10 L264.99,107.23 L265.75,107.37 L266.50,107.51 L267.26,107.65 L268.02,107.79 L268.78,107.93 L269.54,108.07 L270.30,108.21 L271.06,108.35 L271.82,108.49 L272.58,108.63 L273.35,108.77 L274.11,108.91 L274.87,109.05 L275.63,109.19 L276.40,109.33 L277.16,109.47 L277.92,109.61 L278.69,109.75 L279.45,109.89 L280.22,110.03 L280.98,110.17 L281.75,110.30 L282.52,110.44 L283.28,110.58 L284.05,110.72 L284.82,110.86 L285.59,110.99 L286.35,111.13 L287.12,111.26 L287.89,111.40 L288.66,111.53 L289.43,111.66 L290.20,111.80 L290.97,111.93 L291.74,112.06 L292.51,112.19 L293.29,112.32 L294.06,112.44 L294.83,112.57 L295.60,112.70 L296.38,112.82 L297.15,112.94 L297.93,113.07 L298.70,113.19 L299.47,113.31 L300.25,113.42 L301.03,113.53 L301.80,113.61 L302.58,113.68 L303.36,113.74 L304.13,113.78 L304.91,113.81 L305.69,113.82 L306.47,113.82 L307.25,113.81 L308.03,113.78 L308.81,113.75 L309.59,113.70 L310.37,113.64 L311.15,113.57 L311.93,113.50 L312.71,113.41 L313.49,113.32 L314.28,113.21 L315.06,113.10 L315.84,112.99 L316.63,112.86 L317.41,112.73 L318.20,112.60 L318.98,112.46 L319.77,112.32 L320.55,112.17 L321.34,112.02 L322.12,111.87 L322.91,111.72 L323.70,111.56 L324.49,111.40 L325.28,111.25 L326.06,111.09 L326.85,110.93 L327.64,110.78 L328.43,110.63 L329.22,110.47 L330.01,110.33 L330.80,110.18 L331.60,110.04 L332.39,109.90 L333.18,109.77 L333.97,109.65 L334.77,109.52 L335.56,109.41 L336.35,109.30 L337.15,109.21 L337.94,109.12 L338.74,109.03 L339.54,108.96 L340.33,108.90 L341.13,108.85 L341.92,108.81 L342.72,108.77 L343.52,108.75 L344.32,108.73 L345.12,108.71 L345.92,108.70 L346.71,108.69 L347.51,108.69 L348.32,108.69 L349.12,108.69 L349.92,108.69 L350.72,108.70 L351.52,108.71 L352.32,108.73 L353.13,108.74 L353.93,108.76 L354.73,108.78 L355.54,108.80 L356.34,108.82 L357.15,108.85 L357.95,108.87 L358.76,108.90 L359.56,108.92 L360.37,108.95 L361.18,108.97 L361.98,109.00 L362.79,109.03 L363.60,109.05 L364.41,109.08 L365.22,109.10 L366.03,109.13 L366.84,109.15 L367.65,109.17 L368.46,109.19 L369.27,109.20 L370.08,109.22 L370.89,109.23 L371.71,109.24 L372.52,109.25 L373.33,109.25 L374.15,109.25 L374.96,109.25 L375.77,109.24 L376.59,109.23 L377.41,109.21 L378.22,109.19 L379.04,109.16 L379.85,109.13 L380.67,109.10 L381.49,109.05 L382.31,109.00 L383.13,108.94 L383.95,108.87 L384.76,108.80 L385.58,108.70 L386.40,108.59 L387.23,108.44 L388.05,108.26 L388.87,108.06 L389.69,107.81 L390.51,107.53 L391.34,107.21 L392.16,106.82 L392.98,106.25 L393.81,105.49 L394.63,104.59 L395.46,103.61 L396.28,102.59 L397.11,101.58 L397.93,100.62 L398.76,99.77 L399.59,99.06 L400.42,98.52 L401.24,97.96 L402.07,97.31 L402.90,96.57 L403.73,95.72 L404.56,94.75 L405.39,93.66 L406.22,92.43 L407.05,91.06 L407.88,89.54 L408.72,87.86 L409.55,86.01 L410.38,83.99 L411.22,81.80 L412.05,79.44 L412.88,76.91 L413.72,74.21 L414.55,71.36 L415.39,68.36 L416.22,65.24 L417.06,62.00 L417.90,58.69 L418.74,55.31 L419.57,51.91 L420.41,48.51 L421.25,45.15 L422.09,41.87 L422.93,38.71 L423.77,35.72 L424.61,32.93 L425.45,30.39 L426.29,28.14 L427.13,26.23 L427.98,24.69 L428.82,23.57 L429.66,22.88 L430.51,22.67 L431.35,22.95 L432.20,23.75 L433.04,25.08 L433.89,26.18 L434.73,27.72 L435.58,30.65 L436.42,34.85 L437.27,40.18 L438.12,46.44 L438.97,53.42 L439.82,60.87 L440.67,68.59 L441.52,76.33 L442.37,83.93 L443.22,91.19 L444.07,98.00 L444.92,104.26 L445.77,109.90 L446.62,114.89 L447.48,119.25 L448.33,122.98 L449.18,126.12 L450.04,128.74 L450.89,130.89 L451.75,132.64 L452.60,134.03 L453.46,135.15 L454.31,136.03 L455.17,136.72 L456.03,137.27 L456.89,137.70 L457.75,138.05 L458.60,138.33 L459.46,138.57 L460.32,138.78 L461.18,138.96 L462.04,139.13 L462.90,139.28 L463.77,139.43 L464.63,139.57 L465.49,139.70 L466.35,139.84 L467.22,139.97 L468.08,140.11 L468.95,140.24 L469.81,140.37 L470.68,140.50 L471.54,140.64 L472.41,140.77 L473.27,140.90 L474.14,141.03 L474.14,141.03 Z" fill="#7ac4cc" stroke="#111" stroke-width="1"/>
<path d="M152.50,105.08 L152.50,105.08 L153.23,105.20 L153.95,105.31 L154.67,105.42 L155.40,105.54 L156.12,105.65 L156.85,105.77 L157.57,105.88 L158.30,105.99 L159.02,106.11 L159.75,106.22 L160.48,106.34 L161.20,106.45 L161.93,106.57 L162.66,106.68 L163.39,106.80 L164.12,106.91 L164.85,107.02 L165.58,107.14 L166.30,107.25 L167.03,107.37 L167.77,107.48 L168.50,107.60 L169.23,107.71 L169.96,107.83 L170.69,107.94 L171.42,108.06 L172.16,108.18 L172.89,108.29 L173.62,108.41 L174.36,108.52 L175.09,108.64 L175.83,108.75 L176.56,108.87 L177.30,108.98 L178.03,109.10 L178.77,109.22 L179.50,109.33 L180.24,109.45 L180.98,109.56 L181.71,109.68 L182.45,109.80 L183.19,109.91 L183.93,110.03 L184.67,110.14 L185.41,110.26 L186.15,110.38 L186.89,110.49 L187.63,110.61 L188.37,110.73 L189.11,110.84 L189.85,110.96 L190.59,111.08 L191.34,111.19 L192.08,111.31 L192.82,111.43 L193.57,111.54 L194.31,111.66 L195.06,111.78 L195.80,111.90 L196.54,112.01 L197.29,112.13 L198.04,112.25 L198.78,112.37 L199.53,112.48 L200.28,112.60 L201.02,112.72 L201.77,112.84 L202.52,112.95 L203.27,113.07 L204.02,113.19 L204.77,113.31 L205.52,113.42 L206.27,113.54 L207.02,113.66 L207.77,113.78 L208.52,113.90 L209.27,114.02 L210.02,114.13 L210.77,114.25 L211.53,114.37 L212.28,114.49 L213.03,114.61 L213.79,114.73 L214.54,114.85 L215.30,114.96 L216.05,115.08 L216.81,115.20 L217.56,115.32 L218.32,115.44 L219.08,115.56 L219.83,115.68 L220.59,115.80 L221.35,115.92 L222.11,116.04 L222.87,116.16 L223.62,116.27 L224.38,116.39 L225.14,116.51 L225.90,116.63 L226.66,116.75 L227.43,116.87 L228.19,116.99 L228.95,117.11 L229.71,117.23 L230.47,117.35 L231.24,117.47 L232.00,117.59 L232.76,117.71 L233.53,117.83 L234.29,117.95 L235.06,118.07 L235.82,118.19 L236.59,118.31 L237.35,118.43 L238.12,118.56 L238.89,118.68 L239.65,118.80 L240.42,118.92 L241.19,119.04 L241.96,119.16 L242.73,119.28 L243.50,119.40 L244.27,119.52 L245.04,119.64 L245.81,119.77 L246.58,119.89 L247.35,120.01 L248.12,120.13 L248.89,120.25 L249.66,120.37 L250.44,120.49 L251.21,120.62 L251.98,120.74 L252.76,120.86 L253.53,120.98 L254.31,121.10 L255.08,121.23 L255.86,121.35 L256.64,121.47 L257.41,121.59 L258.19,121.71 L258.97,121.84 L259.74,121.96 L260.52,122.08 L261.30,122.20 L262.08,122.33 L262.86,122.45 L263.64,122.57 L264.42,122.69 L265.20,122.81 L265.98,122.92 L266.76,123.04 L267.54,123.14 L268.33,123.25 L269.11,123.35 L269.89,123.45 L270.67,123.55 L271.46,123.64 L272.24,123.74 L273.03,123.82 L273.81,123.91 L274.60,124.00 L275.38,124.08 L276.17,124.16 L276.96,124.24 L277.74,124.32 L278.53,124.39 L279.32,124.47 L280.11,124.54 L280.90,124.61 L281.69,124.68 L282.48,124.75 L283.27,124.81 L284.06,124.88 L284.85,124.95 L285.64,125.01 L286.43,125.07 L287.22,125.14 L288.01,125.20 L288.81,125.26 L289.60,125.32 L290.39,125.38 L291.19,125.44 L291.98,125.50 L292.78,125.57 L293.57,125.63 L294.37,125.69 L295.17,125.75 L295.96,125.81 L296.76,125.87 L297.56,125.94 L298.36,126.00 L299.15,126.07 L299.95,126.13 L300.75,126.20 L301.55,126.26 L302.35,126.32 L303.15,126.39 L303.95,126.45 L304.75,126.51 L305.56,126.57 L306.36,126.63 L307.16,126.68 L307.96,126.74 L308.77,126.79 L309.57,126.85 L310.38,126.90 L311.18,126.96 L311.99,127.01 L312.79,127.06 L313.60,127.11 L314.40,127.16 L315.21,127.21 L316.02,127.25 L316.83,127.30 L317.63,127.34 L318.44,127.39 L319.25,127.43 L320.06,127.48 L320.87,127.52 L321.68,127.56 L322.49,127.60 L323.30,127.64 L324.12,127.68 L324.93,127.72 L325.74,127.76 L326.55,127.79 L327.37,127.83 L328.18,127.87 L329.00,127.90 L329.81,127.93 L330.62,127.97 L331.44,128.00 L332.26,128.03 L333.07,128.06 L333.89,128.09 L334.71,128.12 L335.52,128.15 L336.34,128.18 L337.16,128.21 L337.98,128.24 L338.80,128.27 L339.62,128.30 L340.44,128.33 L341.26,128.36 L342.08,128.39 L342.90,128.42 L343.73,128.46 L344.55,128.49 L345.37,128.52 L346.20,128.56 L347.02,128.59 L347.84,128.63 L348.67,128.66 L349.49,128.69 L350.32,128.73 L351.15,128.76 L351.97,128.79 L352.80,128.82 L353.63,128.84 L354.45,128.87 L355.28,128.89 L356.11,128.92 L356.94,128.94 L357.77,128.95 L358.60,128.97 L359.43,128.98 L360.26,128.99 L361.09,129.00 L361.93,129.00 L362.76,129.00 L363.59,129.00 L364.42,128.99 L365.26,128.98 L366.09,128.97 L366.93,128.95 L367.76,128.93 L368.60,128.90 L369.43,128.87 L370.27,128.83 L371.11,128.79 L371.94,128.74 L372.78,128.69 L373.62,128.63 L374.46,128.57 L375.30,128.49 L376.14,128.42 L376.98,128.33 L377.82,128.24 L378.66,128.13 L379.50,128.01 L380.34,127.84 L381.19,127.62 L382.03,127.35 L382.87,127.03 L383.72,126.66 L384.56,126.25 L385.40,125.78 L386.25,125.27 L387.09,124.63 L387.94,123.80 L388.79,122.84 L389.63,121.78 L390.48,120.68 L391.33,119.56 L392.18,118.46 L393.03,117.18 L393.88,115.73 L394.73,114.17 L395.58,112.56 L396.43,110.97 L397.28,109.45 L398.13,108.07 L398.98,106.89 L399.83,105.96 L400.69,105.09 L401.54,104.11 L402.39,102.99 L403.25,101.74 L404.10,100.34 L404.96,98.78 L405.81,97.06 L406.67,95.17 L407.53,93.11 L408.38,90.87 L409.24,88.45 L410.10,85.85 L410.96,83.06 L411.82,80.11 L412.68,76.99 L413.54,73.71 L414.40,70.30 L415.26,66.76 L416.12,63.12 L416.98,59.41 L417.84,55.65 L418.71,51.88 L419.57,48.12 L420.43,44.43 L421.30,40.83 L422.16,37.37 L423.03,34.09 L423.89,31.05 L424.76,28.27 L425.63,25.82 L426.49,23.72 L427.36,22.03 L428.23,20.78 L429.10,20.01 L429.97,19.75 L430.84,20.02 L431.71,20.86 L432.58,22.27 L433.45,24.28 L434.32,25.44 L435.19,28.11 L436.07,32.59 L436.94,38.67 L437.81,46.09 L438.69,54.55 L439.56,63.71 L440.43,73.24 L441.31,82.83 L442.19,92.18 L443.06,101.07 L443.94,109.30 L444.82,116.76 L445.69,123.38 L446.57,129.12 L447.45,134.01 L448.33,138.10 L449.21,141.46 L450.09,144.18 L450.97,146.34 L451.85,148.04 L452.73,149.36 L453.62,150.38 L454.50,151.16 L455.38,151.75 L456.26,152.22 L457.15,152.58 L458.03,152.88 L458.92,153.12 L459.80,153.32 L460.69,153.51 L461.58,153.68 L462.46,153.83 L463.35,153.98 L464.24,154.13 L465.13,154.27 L466.02,154.42 L466.91,154.56 L467.80,154.70 L468.69,154.84 L469.58,154.98 L470.47,155.12 L471.36,155.26 L472.25,155.40 L473.15,155.54 L473.15,155.54 Z" fill="#7ac4cc" stroke="#111" stroke-width="1"/>
<path d="M142.63,117.50 L142.63,117.50 L143.37,117.62 L144.11,117.74 L144.85,117.86 L145.60,117.98 L146.34,118.10 L147.08,118.22 L147.82,118.34 L148.57,118.46 L149.31,118.58 L150.05,118.70 L150.80,118.82 L151.54,118.94 L152.29,119.06 L153.04,119.18 L153.78,119.30 L154.53,119.43 L155.27,119.55 L156.02,119.67 L156.77,119.79 L157.52,119.91 L158.27,120.03 L159.02,120.15 L159.76,120.28 L160.51,120.40 L161.26,120.52 L162.01,120.64 L162.77,120.76 L163.52,120.88 L164.27,121.01 L165.02,121.13 L165.77,121.25 L166.53,121.37 L167.28,121.49 L168.03,121.62 L168.79,121.74 L169.54,121.86 L170.29,121.98 L171.05,122.11 L171.81,122.23 L172.56,122.35 L173.32,122.47 L174.07,122.60 L174.83,122.72 L175.59,122.84 L176.35,122.97 L177.10,123.09 L177.86,123.21 L178.62,123.33 L179.38,123.46 L180.14,123.58 L180.90,123.70 L181.66,123.83 L182.42,123.95 L183.19,124.07 L183.95,124.20 L184.71,124.32 L185.47,124.45 L186.24,124.57 L187.00,124.69 L187.76,124.82 L188.53,124.94 L189.29,125.07 L190.06,125.19 L190.82,125.31 L191.59,125.44 L192.35,125.56 L193.12,125.69 L193.89,125.81 L194.66,125.94 L195.42,126.06 L196.19,126.19 L196.96,126.31 L197.73,126.43 L198.50,126.56 L199.27,126.68 L200.04,126.81 L200.81,126.93 L201.58,127.06 L202.35,127.18 L203.12,127.31 L203.90,127.44 L204.67,127.56 L205.44,127.69 L206.22,127.81 L206.99,127.94 L207.76,128.06 L208.54,128.19 L209.31,128.31 L210.09,128.44 L210.87,128.57 L211.64,128.69 L212.42,128.82 L213.20,128.94 L213.97,129.07 L214.75,129.20 L215.53,129.32 L216.31,129.45 L217.09,129.58 L217.87,129.70 L218.65,129.83 L219.43,129.96 L220.21,130.08 L220.99,130.21 L221.77,130.34 L222.56,130.46 L223.34,130.59 L224.12,130.72 L224.91,130.84 L225.69,130.97 L226.47,131.10 L227.26,131.23 L228.04,131.35 L228.83,131.48 L229.61,131.61 L230.40,131.74 L231.19,131.86 L231.98,131.99 L232.76,132.12 L233.55,132.25 L234.34,132.37 L235.13,132.50 L235.92,132.63 L236.71,132.76 L237.50,132.89 L238.29,133.01 L239.08,133.14 L239.87,133.27 L240.66,133.40 L241.46,133.53 L242.25,133.66 L243.04,133.79 L243.83,133.91 L244.63,134.04 L245.42,134.17 L246.22,134.30 L247.01,134.43 L247.81,134.56 L248.60,134.69 L249.40,134.82 L250.20,134.95 L251.00,135.08 L251.79,135.21 L252.59,135.34 L253.39,135.47 L254.19,135.59 L254.99,135.72 L255.79,135.85 L256.59,135.98 L257.39,136.11 L258.19,136.24 L258.99,136.36 L259.80,136.48 L260.60,136.60 L261.40,136.72 L262.20,136.83 L263.01,136.95 L263.81,137.06 L264.62,137.17 L265.42,137.27 L266.23,137.38 L267.03,137.48 L267.84,137.58 L268.65,137.68 L269.46,137.78 L270.26,137.88 L271.07,137.98 L271.88,138.07 L272.69,138.16 L273.50,138.25 L274.31,138.35 L275.12,138.44 L275.93,138.52 L276.74,138.61 L277.55,138.70 L278.37,138.79 L279.18,138.87 L279.99,138.96 L280.80,139.04 L281.62,139.13 L282.43,139.21 L283.25,139.29 L284.06,139.38 L284.88,139.46 L285.69,139.54 L286.51,139.63 L287.33,139.71 L288.15,139.79 L288.96,139.87 L289.78,139.96 L290.60,140.04 L291.42,140.13 L292.24,140.21 L293.06,140.30 L293.88,140.38 L294.70,140.47 L295.52,140.56 L296.34,140.64 L297.17,140.73 L297.99,140.82 L298.81,140.91 L299.64,141.01 L300.46,141.10 L301.29,141.19 L302.11,141.29 L302.94,141.38 L303.76,141.47 L304.59,141.56 L305.42,141.65 L306.24,141.74 L307.07,141.83 L307.90,141.92 L308.73,142.01 L309.56,142.10 L310.39,142.19 L311.22,142.28 L312.05,142.37 L312.88,142.46 L313.71,142.55 L314.54,142.64 L315.37,142.73 L316.21,142.82 L317.04,142.91 L317.87,142.99 L318.71,143.08 L319.54,143.17 L320.38,143.26 L321.21,143.35 L322.05,143.44 L322.88,143.53 L323.72,143.62 L324.56,143.72 L325.40,143.81 L326.24,143.90 L327.07,143.99 L327.91,144.08 L328.75,144.17 L329.59,144.27 L330.43,144.36 L331.27,144.46 L332.12,144.55 L332.96,144.65 L333.80,144.74 L334.64,144.84 L335.49,144.94 L336.33,145.04 L337.18,145.15 L338.02,145.25 L338.87,145.36 L339.71,145.46 L340.56,145.57 L341.40,145.68 L342.25,145.79 L343.10,145.90 L343.95,146.01 L344.80,146.11 L345.64,146.22 L346.49,146.33 L347.34,146.44 L348.19,146.55 L349.04,146.65 L349.90,146.76 L350.75,146.86 L351.60,146.96 L352.45,147.06 L353.31,147.16 L354.16,147.26 L355.01,147.35 L355.87,147.44 L356.72,147.53 L357.58,147.61 L358.44,147.70 L359.29,147.78 L360.15,147.85 L361.01,147.93 L361.86,147.99 L362.72,148.00 L363.58,147.97 L364.44,147.90 L365.30,147.79 L366.16,147.65 L367.02,147.48 L367.88,147.29 L368.75,147.07 L369.61,146.84 L370.47,146.60 L371.33,146.34 L372.20,146.08 L373.06,145.82 L373.93,145.56 L374.79,145.30 L375.66,145.06 L376.52,144.82 L377.39,144.60 L378.26,144.40 L379.13,144.21 L379.99,144.05 L380.86,143.92 L381.73,143.81 L382.60,143.74 L383.47,143.69 L384.34,143.67 L385.21,143.66 L386.08,143.62 L386.96,143.55 L387.83,143.45 L388.70,143.30 L389.58,143.12 L390.45,142.87 L391.32,142.57 L392.20,142.19 L393.07,141.74 L393.95,141.19 L394.83,140.55 L395.70,139.79 L396.58,138.91 L397.46,137.90 L398.34,136.74 L399.22,135.42 L400.10,133.93 L400.98,132.25 L401.86,130.38 L402.74,128.30 L403.62,126.01 L404.50,123.49 L405.38,120.74 L406.27,117.75 L407.15,114.52 L408.03,111.04 L408.92,107.33 L409.80,103.39 L410.69,99.22 L411.57,94.84 L412.46,90.26 L413.35,85.51 L414.23,80.60 L415.12,75.56 L416.01,70.43 L416.90,65.23 L417.79,60.01 L418.68,54.81 L419.57,49.66 L420.46,44.62 L421.35,39.72 L422.24,35.02 L423.14,30.56 L424.03,26.40 L424.92,22.56 L425.82,19.10 L426.71,16.06 L427.61,13.48 L428.50,11.38 L429.40,9.80 L430.29,8.76 L431.19,8.29 L432.09,8.38 L432.99,9.01 L433.88,11.54 L434.78,16.39 L435.68,23.34 L436.58,32.09 L437.48,42.26 L438.38,53.44 L439.29,65.23 L440.19,77.21 L441.09,89.01 L441.99,100.32 L442.90,110.89 L443.80,120.52 L444.71,129.13 L445.61,136.64 L446.52,143.08 L447.42,148.49 L448.33,152.96 L449.24,156.59 L450.15,159.48 L451.05,161.76 L451.96,163.53 L452.87,164.89 L453.78,165.93 L454.69,166.72 L455.60,167.32 L456.52,167.79 L457.43,168.15 L458.34,168.45 L459.25,168.70 L460.17,168.91 L461.08,169.10 L462.00,169.27 L462.91,169.43 L463.83,169.59 L464.74,169.75 L465.66,169.90 L466.58,170.05 L467.49,170.20 L468.41,170.35 L469.33,170.50 L470.25,170.65 L471.17,170.80 L472.09,170.95 L472.09,170.95 Z" fill="#7ac4cc" stroke="#111" stroke-width="1"/>
<path d="M132.19,130.62 L132.19,130.62 L132.95,130.75 L133.71,130.87 L134.47,131.00 L135.23,131.13 L135.99,131.26 L136.75,131.38 L137.52,131.51 L138.28,131.64 L139.04,131.77 L139.80,131.89 L140.57,132.02 L141.33,132.15 L142.09,132.28 L142.86,132.40 L143.62,132.53 L144.39,132.66 L145.15,132.79 L145.92,132.92 L146.69,133.05 L147.45,133.17 L148.22,133.30 L148.99,133.43 L149.76,133.56 L150.52,133.69 L151.29,133.82 L152.06,133.95 L152.83,134.07 L153.60,134.20 L154.37,134.33 L155.14,134.46 L155.92,134.59 L156.69,134.72 L157.46,134.85 L158.23,134.98 L159.01,135.11 L159.78,135.24 L160.55,135.37 L161.33,135.50 L162.10,135.63 L162.88,135.76 L163.65,135.89 L164.43,136.02 L165.21,136.15 L165.98,136.28 L166.76,136.41 L167.54,136.54 L168.32,136.67 L169.09,136.80 L169.87,136.93 L170.65,137.06 L171.43,137.19 L172.21,137.32 L172.99,137.45 L173.77,137.58 L174.56,137.71 L175.34,137.84 L176.12,137.97 L176.90,138.10 L177.69,138.24 L178.47,138.37 L179.25,138.50 L180.04,138.63 L180.82,138.76 L181.61,138.89 L182.39,139.02 L183.18,139.16 L183.97,139.29 L184.75,139.42 L185.54,139.55 L186.33,139.68 L187.12,139.81 L187.90,139.95 L188.69,140.08 L189.48,140.21 L190.27,140.34 L191.06,140.48 L191.85,140.61 L192.65,140.74 L193.44,140.87 L194.23,141.01 L195.02,141.14 L195.81,141.27 L196.61,141.40 L197.40,141.54 L198.20,141.67 L198.99,141.80 L199.79,141.94 L200.58,142.07 L201.38,142.20 L202.17,142.34 L202.97,142.47 L203.77,142.60 L204.57,142.74 L205.36,142.87 L206.16,143.00 L206.96,143.14 L207.76,143.27 L208.56,143.41 L209.36,143.54 L210.16,143.67 L210.96,143.81 L211.77,143.94 L212.57,144.08 L213.37,144.21 L214.17,144.35 L214.98,144.48 L215.78,144.61 L216.58,144.75 L217.39,144.88 L218.19,145.02 L219.00,145.15 L219.81,145.29 L220.61,145.42 L221.42,145.56 L222.23,145.69 L223.03,145.83 L223.84,145.96 L224.65,146.10 L225.46,146.24 L226.27,146.37 L227.08,146.51 L227.89,146.64 L228.70,146.78 L229.51,146.91 L230.32,147.05 L231.14,147.19 L231.95,147.32 L232.76,147.46 L233.58,147.59 L234.39,147.73 L235.21,147.87 L236.02,148.00 L236.84,148.14 L237.65,148.28 L238.47,148.41 L239.28,148.55 L240.10,148.69 L240.92,148.82 L241.74,148.96 L242.56,149.10 L243.38,149.23 L244.19,149.37 L245.01,149.51 L245.83,149.65 L246.66,149.78 L247.48,149.92 L248.30,150.06 L249.12,150.20 L249.94,150.33 L250.77,150.47 L251.59,150.60 L252.41,150.72 L253.24,150.85 L254.06,150.97 L254.89,151.08 L255.72,151.20 L256.54,151.31 L257.37,151.42 L258.20,151.53 L259.02,151.64 L259.85,151.74 L260.68,151.84 L261.51,151.94 L262.34,152.04 L263.17,152.14 L264.00,152.23 L264.83,152.33 L265.66,152.42 L266.49,152.51 L267.33,152.60 L268.16,152.69 L268.99,152.78 L269.83,152.87 L270.66,152.95 L271.49,153.04 L272.33,153.13 L273.16,153.21 L274.00,153.30 L274.84,153.38 L275.67,153.47 L276.51,153.56 L277.35,153.64 L278.19,153.73 L279.03,153.82 L279.87,153.90 L280.71,153.99 L281.55,154.08 L282.39,154.17 L283.23,154.26 L284.07,154.35 L284.91,154.45 L285.75,154.54 L286.60,154.64 L287.44,154.74 L288.28,154.84 L289.13,154.94 L289.97,155.04 L290.82,155.14 L291.67,155.24 L292.51,155.34 L293.36,155.44 L294.21,155.54 L295.05,155.64 L295.90,155.74 L296.75,155.84 L297.60,155.94 L298.45,156.04 L299.30,156.14 L300.15,156.24 L301.00,156.34 L301.85,156.44 L302.71,156.54 L303.56,156.64 L304.41,156.74 L305.27,156.84 L306.12,156.94 L306.97,157.04 L307.83,157.14 L308.68,157.24 L309.54,157.35 L310.40,157.45 L311.25,157.55 L312.11,157.65 L312.97,157.75 L313.83,157.85 L314.69,157.95 L315.55,158.06 L316.41,158.16 L317.27,158.26 L318.13,158.36 L318.99,158.47 L319.85,158.57 L320.71,158.67 L321.58,158.77 L322.44,158.88 L323.30,158.98 L324.17,159.08 L325.03,159.19 L325.90,159.29 L326.76,159.39 L327.63,159.50 L328.50,159.60 L329.36,159.71 L330.23,159.82 L331.10,159.93 L331.97,160.04 L332.84,160.15 L333.71,160.26 L334.58,160.38 L335.45,160.49 L336.32,160.60 L337.19,160.72 L338.06,160.83 L338.93,160.95 L339.81,161.06 L340.68,161.18 L341.56,161.29 L342.43,161.41 L343.31,161.52 L344.18,161.63 L345.06,161.74 L345.93,161.85 L346.81,161.96 L347.69,162.07 L348.57,162.17 L349.45,162.28 L350.32,162.38 L351.20,162.48 L352.08,162.57 L352.96,162.67 L353.85,162.76 L354.73,162.85 L355.61,162.94 L356.49,163.02 L357.38,163.09 L358.26,163.14 L359.14,163.16 L360.03,163.16 L360.91,163.13 L361.80,163.08 L362.69,163.02 L363.57,162.93 L364.46,162.83 L365.35,162.72 L366.24,162.59 L367.12,162.45 L368.01,162.30 L368.90,162.15 L369.79,161.99 L370.69,161.82 L371.58,161.65 L372.47,161.48 L373.36,161.31 L374.25,161.13 L375.15,160.96 L376.04,160.78 L376.94,160.61 L377.83,160.43 L378.73,160.26 L379.62,160.08 L380.52,159.90 L381.42,159.71 L382.31,159.52 L383.21,159.31 L384.11,159.09 L385.01,158.86 L385.91,158.59 L386.81,158.30 L387.71,157.95 L388.61,157.53 L389.51,157.03 L390.41,156.44 L391.32,155.75 L392.22,154.94 L393.12,154.01 L394.03,152.94 L394.93,151.72 L395.84,150.33 L396.75,148.77 L397.65,147.01 L398.56,145.05 L399.47,142.87 L400.37,140.47 L401.28,137.84 L402.19,134.96 L403.10,131.83 L404.01,128.45 L404.92,124.81 L405.83,120.93 L406.75,116.80 L407.66,112.44 L408.57,107.85 L409.48,103.06 L410.40,98.08 L411.31,92.93 L412.23,87.65 L413.14,82.27 L414.06,76.83 L414.98,71.35 L415.89,65.89 L416.81,60.49 L417.73,55.19 L418.65,50.05 L419.57,45.11 L420.49,40.42 L421.41,36.03 L422.33,31.98 L423.25,28.33 L424.17,25.11 L425.09,22.37 L426.02,20.14 L426.94,18.44 L427.86,17.30 L428.79,16.75 L429.71,16.80 L430.64,17.42 L431.57,20.08 L432.49,25.17 L433.42,32.46 L434.35,41.63 L435.28,52.30 L436.21,64.03 L437.13,76.39 L438.06,88.96 L439.00,101.34 L439.93,113.20 L440.86,124.28 L441.79,134.39 L442.72,143.41 L443.66,151.30 L444.59,158.05 L445.53,163.73 L446.46,168.42 L447.40,172.22 L448.33,175.26 L449.27,177.65 L450.21,179.51 L451.14,180.94 L452.08,182.03 L453.02,182.86 L453.96,183.50 L454.90,183.99 L455.84,184.37 L456.78,184.69 L457.72,184.95 L458.67,185.17 L459.61,185.37 L460.55,185.56 L461.50,185.73 L462.44,185.90 L463.39,186.06 L464.33,186.23 L465.28,186.39 L466.22,186.55 L467.17,186.70 L468.12,186.86 L469.07,187.02 L470.02,187.18 L470.97,187.34 L470.97,187.34 Z" fill="#7ac4cc" stroke="#111" stroke-width="1"/>
<path d="M121.14,144.52 L121.14,144.52 L121.92,144.65 L122.70,144.79 L123.48,144.92 L124.26,145.06 L125.04,145.19 L125.82,145.33 L126.60,145.46 L127.38,145.60 L128.16,145.73 L128.94,145.87 L129.73,146.00 L130.51,146.14 L131.29,146.27 L132.08,146.41 L132.86,146.54 L133.65,146.68 L134.43,146.82 L135.22,146.95 L136.00,147.09 L136.79,147.22 L137.58,147.36 L138.37,147.50 L139.15,147.63 L139.94,147.77 L140.73,147.90 L141.52,148.04 L142.31,148.18 L143.10,148.31 L143.89,148.45 L144.68,148.59 L145.47,148.73 L146.27,148.86 L147.06,149.00 L147.85,149.14 L148.64,149.27 L149.44,149.41 L150.23,149.55 L151.03,149.69 L151.82,149.82 L152.62,149.96 L153.41,150.10 L154.21,150.24 L155.01,150.37 L155.80,150.51 L156.60,150.65 L157.40,150.79 L158.20,150.93 L159.00,151.06 L159.80,151.20 L160.60,151.34 L161.40,151.48 L162.20,151.62 L163.00,151.76 L163.80,151.89 L164.60,152.03 L165.40,152.17 L166.21,152.31 L167.01,152.45 L167.81,152.59 L168.62,152.73 L169.42,152.87 L170.23,153.01 L171.03,153.15 L171.84,153.29 L172.65,153.43 L173.45,153.56 L174.26,153.70 L175.07,153.84 L175.88,153.98 L176.69,154.12 L177.49,154.26 L178.30,154.40 L179.11,154.54 L179.93,154.68 L180.74,154.82 L181.55,154.97 L182.36,155.11 L183.17,155.25 L183.99,155.39 L184.80,155.53 L185.61,155.67 L186.43,155.81 L187.24,155.95 L188.06,156.09 L188.87,156.23 L189.69,156.37 L190.50,156.51 L191.32,156.66 L192.14,156.80 L192.96,156.94 L193.78,157.08 L194.59,157.22 L195.41,157.36 L196.23,157.51 L197.05,157.65 L197.87,157.79 L198.69,157.93 L199.52,158.07 L200.34,158.22 L201.16,158.36 L201.98,158.50 L202.81,158.64 L203.63,158.78 L204.46,158.93 L205.28,159.07 L206.11,159.21 L206.93,159.36 L207.76,159.50 L208.58,159.64 L209.41,159.78 L210.24,159.93 L211.07,160.07 L211.90,160.21 L212.72,160.36 L213.55,160.50 L214.38,160.64 L215.21,160.79 L216.05,160.93 L216.88,161.08 L217.71,161.22 L218.54,161.36 L219.37,161.51 L220.21,161.65 L221.04,161.80 L221.88,161.94 L222.71,162.09 L223.55,162.23 L224.38,162.37 L225.22,162.52 L226.05,162.66 L226.89,162.81 L227.73,162.95 L228.57,163.10 L229.40,163.24 L230.24,163.39 L231.08,163.53 L231.92,163.68 L232.76,163.82 L233.60,163.97 L234.45,164.11 L235.29,164.26 L236.13,164.41 L236.97,164.55 L237.82,164.70 L238.66,164.84 L239.50,164.99 L240.35,165.14 L241.19,165.28 L242.04,165.43 L242.89,165.57 L243.73,165.72 L244.58,165.87 L245.43,166.01 L246.27,166.16 L247.12,166.31 L247.97,166.45 L248.82,166.59 L249.67,166.73 L250.52,166.87 L251.37,167.00 L252.22,167.13 L253.08,167.26 L253.93,167.39 L254.78,167.52 L255.64,167.64 L256.49,167.76 L257.34,167.88 L258.20,168.00 L259.05,168.11 L259.91,168.23 L260.77,168.34 L261.62,168.45 L262.48,168.56 L263.34,168.67 L264.20,168.78 L265.06,168.89 L265.92,169.00 L266.78,169.10 L267.64,169.21 L268.50,169.31 L269.36,169.42 L270.22,169.52 L271.08,169.62 L271.94,169.70 L272.81,169.78 L273.67,169.84 L274.54,169.90 L275.40,169.95 L276.27,170.00 L277.13,170.03 L278.00,170.07 L278.87,170.10 L279.73,170.13 L280.60,170.16 L281.47,170.19 L282.34,170.22 L283.21,170.25 L284.08,170.29 L284.95,170.33 L285.82,170.37 L286.69,170.42 L287.56,170.48 L288.43,170.55 L289.31,170.63 L290.18,170.72 L291.05,170.81 L291.93,170.90 L292.80,170.99 L293.68,171.08 L294.55,171.18 L295.43,171.27 L296.31,171.37 L297.19,171.47 L298.06,171.57 L298.94,171.67 L299.82,171.77 L300.70,171.87 L301.58,171.97 L302.46,172.08 L303.34,172.18 L304.22,172.29 L305.10,172.40 L305.99,172.51 L306.87,172.61 L307.75,172.73 L308.64,172.84 L309.52,172.95 L310.41,173.06 L311.29,173.18 L312.18,173.29 L313.07,173.41 L313.95,173.53 L314.84,173.65 L315.73,173.77 L316.62,173.89 L317.51,174.01 L318.40,174.13 L319.29,174.25 L320.18,174.38 L321.07,174.50 L321.96,174.63 L322.85,174.75 L323.75,174.88 L324.64,175.01 L325.53,175.14 L326.43,175.28 L327.32,175.41 L328.22,175.55 L329.12,175.68 L330.01,175.82 L330.91,175.96 L331.81,176.10 L332.71,176.24 L333.60,176.38 L334.50,176.52 L335.40,176.66 L336.30,176.80 L337.20,176.94 L338.11,177.08 L339.01,177.22 L339.91,177.36 L340.81,177.50 L341.72,177.64 L342.62,177.77 L343.53,177.91 L344.43,178.04 L345.34,178.18 L346.24,178.31 L347.15,178.44 L348.06,178.57 L348.96,178.70 L349.87,178.82 L350.78,178.94 L351.69,179.06 L352.60,179.18 L353.51,179.28 L354.42,179.37 L355.33,179.44 L356.25,179.50 L357.16,179.55 L358.07,179.58 L358.99,179.61 L359.90,179.62 L360.81,179.62 L361.73,179.60 L362.65,179.58 L363.56,179.55 L364.48,179.51 L365.40,179.46 L366.31,179.40 L367.23,179.33 L368.15,179.24 L369.07,179.15 L369.99,179.05 L370.91,178.93 L371.83,178.80 L372.76,178.66 L373.68,178.49 L374.60,178.32 L375.53,178.11 L376.45,177.89 L377.37,177.57 L378.30,177.12 L379.23,176.61 L380.15,176.06 L381.08,175.55 L382.01,175.11 L382.93,174.77 L383.86,174.40 L384.79,173.95 L385.72,173.41 L386.65,172.76 L387.58,172.00 L388.51,171.12 L389.45,170.10 L390.38,168.93 L391.31,167.59 L392.24,166.08 L393.18,164.38 L394.11,162.47 L395.05,160.36 L395.98,158.01 L396.92,155.43 L397.86,152.60 L398.80,149.52 L399.73,146.18 L400.67,142.59 L401.61,138.72 L402.55,134.61 L403.49,130.23 L404.43,125.62 L405.37,120.78 L406.32,115.73 L407.26,110.48 L408.20,105.08 L409.14,99.54 L410.09,93.90 L411.03,88.20 L411.98,82.48 L412.93,76.78 L413.87,71.16 L414.82,65.65 L415.77,60.32 L416.72,55.20 L417.66,50.36 L418.61,45.85 L419.56,41.70 L420.51,37.99 L421.47,34.73 L422.42,31.99 L423.37,29.79 L424.32,28.17 L425.28,27.15 L426.23,26.76 L427.18,27.00 L428.14,27.76 L429.10,30.53 L430.05,35.83 L431.01,43.42 L431.97,52.97 L432.92,64.08 L433.88,76.29 L434.84,89.17 L435.80,102.25 L436.76,115.14 L437.72,127.49 L438.68,139.03 L439.65,149.56 L440.61,158.96 L441.57,167.18 L442.54,174.21 L443.50,180.13 L444.47,185.01 L445.43,188.98 L446.40,192.14 L447.37,194.64 L448.33,196.57 L449.30,198.07 L450.27,199.21 L451.24,200.08 L452.21,200.74 L453.18,201.26 L454.15,201.67 L455.12,202.00 L456.09,202.27 L457.07,202.51 L458.04,202.72 L459.01,202.92 L459.99,203.10 L460.96,203.28 L461.94,203.46 L462.92,203.63 L463.89,203.80 L464.87,203.97 L465.85,204.14 L466.83,204.31 L467.81,204.48 L468.79,204.65 L469.77,204.82 L469.77,204.82 Z" fill="#7ac4cc" stroke="#111" stroke-width="1"/>
<path d="M109.42,159.26 L109.42,159.26 L110.21,159.40 L111.01,159.54 L111.81,159.69 L112.61,159.83 L113.41,159.97 L114.22,160.12 L115.02,160.26 L115.82,160.40 L116.62,160.55 L117.42,160.69 L118.23,160.83 L119.03,160.98 L119.84,161.12 L120.64,161.27 L121.45,161.41 L122.25,161.55 L123.06,161.70 L123.86,161.84 L124.67,161.99 L125.48,162.13 L126.29,162.28 L127.10,162.42 L127.90,162.57 L128.71,162.71 L129.52,162.85 L130.33,163.00 L131.14,163.14 L131.96,163.29 L132.77,163.43 L133.58,163.58 L134.39,163.73 L135.20,163.87 L136.02,164.02 L136.83,164.16 L137.65,164.31 L138.46,164.45 L139.28,164.60 L140.09,164.75 L140.91,164.89 L141.73,165.04 L142.54,165.18 L143.36,165.33 L144.18,165.48 L145.00,165.62 L145.82,165.77 L146.64,165.92 L147.46,166.06 L148.28,166.21 L149.10,166.36 L149.92,166.50 L150.74,166.65 L151.56,166.80 L152.39,166.94 L153.21,167.09 L154.03,167.24 L154.86,167.39 L155.68,167.53 L156.51,167.68 L157.33,167.83 L158.16,167.98 L158.99,168.13 L159.81,168.27 L160.64,168.42 L161.47,168.57 L162.30,168.72 L163.13,168.87 L163.95,169.01 L164.78,169.16 L165.62,169.31 L166.45,169.46 L167.28,169.61 L168.11,169.76 L168.94,169.91 L169.77,170.06 L170.61,170.20 L171.44,170.35 L172.28,170.50 L173.11,170.65 L173.95,170.80 L174.78,170.95 L175.62,171.10 L176.45,171.25 L177.29,171.40 L178.13,171.55 L178.97,171.70 L179.81,171.85 L180.64,172.00 L181.48,172.15 L182.32,172.30 L183.17,172.45 L184.01,172.60 L184.85,172.75 L185.69,172.90 L186.53,173.05 L187.38,173.20 L188.22,173.36 L189.06,173.51 L189.91,173.66 L190.75,173.81 L191.60,173.96 L192.44,174.11 L193.29,174.26 L194.14,174.41 L194.98,174.57 L195.83,174.72 L196.68,174.87 L197.53,175.02 L198.38,175.17 L199.23,175.32 L200.08,175.48 L200.93,175.63 L201.78,175.78 L202.63,175.93 L203.49,176.09 L204.34,176.24 L205.19,176.39 L206.05,176.54 L206.90,176.70 L207.75,176.85 L208.61,177.00 L209.47,177.16 L210.32,177.31 L211.18,177.46 L212.04,177.62 L212.89,177.77 L213.75,177.92 L214.61,178.08 L215.47,178.23 L216.33,178.38 L217.19,178.54 L218.05,178.69 L218.91,178.85 L219.77,179.00 L220.64,179.15 L221.50,179.31 L222.36,179.46 L223.23,179.62 L224.09,179.77 L224.96,179.93 L225.82,180.08 L226.69,180.24 L227.55,180.39 L228.42,180.55 L229.29,180.70 L230.16,180.86 L231.02,181.01 L231.89,181.17 L232.76,181.32 L233.63,181.48 L234.50,181.64 L235.37,181.79 L236.25,181.95 L237.12,182.10 L237.99,182.26 L238.86,182.42 L239.74,182.57 L240.61,182.73 L241.49,182.88 L242.36,183.04 L243.24,183.20 L244.11,183.35 L244.99,183.51 L245.87,183.67 L246.75,183.83 L247.62,183.98 L248.50,184.14 L249.38,184.30 L250.26,184.45 L251.14,184.61 L252.02,184.76 L252.90,184.90 L253.79,185.03 L254.67,185.16 L255.55,185.28 L256.43,185.40 L257.32,185.51 L258.20,185.62 L259.09,185.72 L259.97,185.82 L260.86,185.91 L261.75,186.00 L262.63,186.08 L263.52,186.16 L264.41,186.24 L265.30,186.32 L266.19,186.39 L267.08,186.46 L267.97,186.52 L268.86,186.59 L269.75,186.65 L270.64,186.71 L271.53,186.77 L272.43,186.83 L273.32,186.89 L274.21,186.95 L275.11,187.00 L276.00,187.03 L276.90,187.03 L277.80,187.00 L278.69,186.94 L279.59,186.86 L280.49,186.77 L281.39,186.67 L282.29,186.58 L283.18,186.48 L284.08,186.40 L284.99,186.34 L285.89,186.29 L286.79,186.28 L287.69,186.30 L288.59,186.36 L289.50,186.47 L290.40,186.62 L291.30,186.78 L292.21,186.95 L293.11,187.11 L294.02,187.28 L294.93,187.45 L295.83,187.62 L296.74,187.79 L297.65,187.96 L298.56,188.14 L299.47,188.31 L300.38,188.49 L301.29,188.66 L302.20,188.84 L303.11,189.01 L304.02,189.19 L304.93,189.37 L305.85,189.54 L306.76,189.72 L307.67,189.89 L308.59,190.07 L309.50,190.24 L310.42,190.41 L311.34,190.58 L312.25,190.75 L313.17,190.92 L314.09,191.09 L315.01,191.26 L315.93,191.42 L316.85,191.58 L317.77,191.75 L318.69,191.91 L319.61,192.07 L320.53,192.24 L321.45,192.40 L322.38,192.56 L323.30,192.73 L324.22,192.89 L325.15,193.06 L326.07,193.22 L327.00,193.38 L327.93,193.55 L328.85,193.71 L329.78,193.88 L330.71,194.04 L331.64,194.21 L332.57,194.37 L333.50,194.54 L334.43,194.70 L335.36,194.87 L336.29,195.03 L337.22,195.20 L338.15,195.36 L339.09,195.53 L340.02,195.69 L340.95,195.86 L341.89,196.02 L342.83,196.19 L343.76,196.36 L344.70,196.52 L345.64,196.69 L346.57,196.85 L347.51,197.02 L348.45,197.16 L349.39,197.28 L350.33,197.38 L351.27,197.46 L352.21,197.53 L353.15,197.57 L354.10,197.60 L355.04,197.61 L355.98,197.61 L356.93,197.58 L357.87,197.55 L358.82,197.50 L359.76,197.43 L360.71,197.35 L361.66,197.25 L362.60,197.14 L363.55,197.01 L364.50,196.87 L365.45,196.71 L366.40,196.54 L367.35,196.35 L368.30,196.15 L369.25,195.92 L370.20,195.67 L371.16,195.40 L372.11,195.10 L373.06,194.63 L374.02,193.92 L374.97,193.09 L375.93,192.23 L376.89,191.46 L377.84,190.87 L378.80,190.55 L379.76,190.23 L380.72,189.84 L381.68,189.36 L382.64,188.79 L383.60,188.11 L384.56,187.31 L385.52,186.38 L386.48,185.30 L387.45,184.08 L388.41,182.68 L389.37,181.10 L390.34,179.33 L391.30,177.34 L392.27,175.14 L393.24,172.70 L394.20,170.03 L395.17,167.10 L396.14,163.92 L397.11,160.47 L398.08,156.76 L399.05,152.79 L400.02,148.56 L400.99,144.08 L401.96,139.36 L402.93,134.41 L403.91,129.26 L404.88,123.93 L405.86,118.45 L406.83,112.85 L407.81,107.15 L408.78,101.42 L409.76,95.68 L410.74,89.98 L411.71,84.37 L412.69,78.91 L413.67,73.63 L414.65,68.61 L415.63,63.88 L416.61,59.50 L417.60,55.52 L418.58,51.99 L419.56,48.95 L420.54,46.45 L421.53,44.51 L422.51,43.17 L423.50,42.46 L424.48,42.39 L425.47,42.97 L426.46,44.18 L427.45,47.88 L428.43,54.08 L429.42,62.50 L430.41,72.77 L431.40,84.48 L432.39,97.17 L433.39,110.36 L434.38,123.62 L435.37,136.57 L436.36,148.86 L437.36,160.26 L438.35,170.58 L439.35,179.73 L440.34,187.67 L441.34,194.43 L442.34,200.08 L443.34,204.72 L444.33,208.47 L445.33,211.45 L446.33,213.79 L447.33,215.60 L448.33,216.99 L449.34,218.06 L450.34,218.88 L451.34,219.51 L452.34,220.00 L453.35,220.39 L454.35,220.71 L455.36,220.99 L456.37,221.23 L457.37,221.44 L458.38,221.65 L459.39,221.84 L460.40,222.03 L461.41,222.22 L462.42,222.40 L463.43,222.59 L464.44,222.77 L465.45,222.95 L466.46,223.13 L467.47,223.31 L468.49,223.49 L468.49,223.49 Z" fill="#7ac4cc" stroke="#111" stroke-width="1"/>
<path d="M96.96,174.92 L96.96,174.92 L97.78,175.07 L98.60,175.23 L99.42,175.38 L100.24,175.53 L101.06,175.68 L101.89,175.84 L102.71,175.99 L103.53,176.14 L104.36,176.29 L105.18,176.45 L106.01,176.60 L106.83,176.75 L107.66,176.90 L108.48,177.06 L109.31,177.21 L110.14,177.36 L110.97,177.52 L111.80,177.67 L112.62,177.82 L113.45,177.98 L114.28,178.13 L115.11,178.29 L115.94,178.44 L116.78,178.59 L117.61,178.75 L118.44,178.90 L119.27,179.06 L120.11,179.21 L120.94,179.37 L121.77,179.52 L122.61,179.67 L123.44,179.83 L124.28,179.98 L125.12,180.14 L125.95,180.29 L126.79,180.45 L127.63,180.60 L128.47,180.76 L129.30,180.91 L130.14,181.07 L130.98,181.23 L131.82,181.38 L132.66,181.54 L133.51,181.69 L134.35,181.85 L135.19,182.00 L136.03,182.16 L136.88,182.32 L137.72,182.47 L138.56,182.63 L139.41,182.79 L140.25,182.94 L141.10,183.10 L141.94,183.26 L142.79,183.41 L143.64,183.57 L144.49,183.73 L145.33,183.88 L146.18,184.04 L147.03,184.20 L147.88,184.36 L148.73,184.51 L149.58,184.67 L150.43,184.83 L151.29,184.99 L152.14,185.14 L152.99,185.30 L153.84,185.46 L154.70,185.62 L155.55,185.78 L156.41,185.94 L157.26,186.09 L158.12,186.25 L158.97,186.41 L159.83,186.57 L160.69,186.73 L161.55,186.89 L162.40,187.05 L163.26,187.21 L164.12,187.36 L164.98,187.52 L165.84,187.68 L166.70,187.84 L167.56,188.00 L168.43,188.16 L169.29,188.32 L170.15,188.48 L171.01,188.64 L171.88,188.80 L172.74,188.96 L173.61,189.12 L174.47,189.28 L175.34,189.44 L176.21,189.60 L177.07,189.76 L177.94,189.92 L178.81,190.09 L179.68,190.25 L180.55,190.41 L181.42,190.57 L182.29,190.73 L183.16,190.89 L184.03,191.05 L184.90,191.21 L185.77,191.38 L186.65,191.54 L187.52,191.70 L188.39,191.86 L189.27,192.02 L190.14,192.18 L191.02,192.35 L191.89,192.51 L192.77,192.67 L193.65,192.83 L194.52,193.00 L195.40,193.16 L196.28,193.32 L197.16,193.48 L198.04,193.65 L198.92,193.81 L199.80,193.97 L200.68,194.14 L201.56,194.30 L202.45,194.46 L203.33,194.63 L204.21,194.79 L205.10,194.95 L205.98,195.12 L206.86,195.28 L207.75,195.45 L208.64,195.61 L209.52,195.77 L210.41,195.94 L211.30,196.10 L212.19,196.27 L213.07,196.43 L213.96,196.60 L214.85,196.76 L215.74,196.93 L216.63,197.09 L217.53,197.26 L218.42,197.42 L219.31,197.59 L220.20,197.75 L221.10,197.92 L221.99,198.08 L222.89,198.25 L223.78,198.42 L224.68,198.58 L225.57,198.75 L226.47,198.91 L227.37,199.08 L228.27,199.25 L229.16,199.41 L230.06,199.58 L230.96,199.75 L231.86,199.91 L232.76,200.08 L233.66,200.25 L234.57,200.41 L235.47,200.58 L236.37,200.75 L237.28,200.92 L238.18,201.08 L239.08,201.25 L239.99,201.42 L240.89,201.59 L241.80,201.75 L242.71,201.92 L243.61,202.08 L244.52,202.23 L245.43,202.37 L246.34,202.51 L247.25,202.65 L248.16,202.78 L249.07,202.90 L249.98,203.02 L250.89,203.14 L251.81,203.25 L252.72,203.36 L253.63,203.47 L254.55,203.57 L255.46,203.67 L256.38,203.77 L257.29,203.87 L258.21,203.97 L259.12,204.06 L260.04,204.15 L260.96,204.23 L261.88,204.28 L262.80,204.31 L263.72,204.33 L264.64,204.34 L265.56,204.34 L266.48,204.34 L267.40,204.35 L268.32,204.37 L269.25,204.40 L270.17,204.45 L271.09,204.50 L272.02,204.54 L272.94,204.59 L273.87,204.63 L274.80,204.67 L275.72,204.71 L276.65,204.76 L277.58,204.80 L278.51,204.84 L279.44,204.89 L280.37,204.94 L281.30,204.99 L282.23,205.04 L283.16,205.10 L284.09,205.16 L285.03,205.23 L285.96,205.30 L286.89,205.38 L287.83,205.47 L288.76,205.56 L289.70,205.66 L290.64,205.77 L291.57,205.89 L292.51,206.02 L293.45,206.16 L294.39,206.31 L295.33,206.47 L296.27,206.64 L297.21,206.82 L298.15,207.00 L299.09,207.19 L300.03,207.38 L300.97,207.57 L301.92,207.76 L302.86,207.96 L303.80,208.17 L304.75,208.37 L305.70,208.58 L306.64,208.79 L307.59,209.00 L308.54,209.22 L309.48,209.49 L310.43,209.79 L311.38,210.12 L312.33,210.47 L313.28,210.83 L314.23,211.20 L315.19,211.58 L316.14,211.95 L317.09,212.31 L318.04,212.65 L319.00,212.97 L319.95,213.27 L320.91,213.53 L321.86,213.75 L322.82,213.92 L323.78,214.09 L324.73,214.26 L325.69,214.42 L326.65,214.57 L327.61,214.72 L328.57,214.86 L329.53,215.00 L330.49,215.14 L331.45,215.27 L332.42,215.40 L333.38,215.52 L334.34,215.64 L335.31,215.76 L336.27,215.88 L337.24,215.99 L338.20,216.10 L339.17,216.20 L340.14,216.29 L341.11,216.36 L342.08,216.40 L343.04,216.43 L344.01,216.43 L344.98,216.41 L345.96,216.37 L346.93,216.31 L347.90,216.24 L348.87,216.14 L349.85,216.03 L350.82,215.89 L351.79,215.74 L352.77,215.57 L353.75,215.39 L354.72,215.19 L355.70,214.97 L356.68,214.67 L357.66,214.27 L358.63,213.76 L359.61,213.16 L360.59,212.49 L361.58,211.75 L362.56,210.96 L363.54,210.13 L364.52,209.28 L365.51,208.37 L366.49,207.30 L367.47,206.11 L368.46,204.81 L369.45,203.43 L370.43,201.99 L371.42,200.52 L372.41,199.05 L373.40,197.59 L374.38,196.17 L375.37,194.74 L376.36,193.13 L377.36,191.41 L378.35,189.64 L379.34,187.88 L380.33,186.21 L381.33,184.70 L382.32,183.38 L383.31,182.04 L384.31,180.62 L385.31,179.07 L386.30,177.37 L387.30,175.48 L388.30,173.39 L389.30,171.06 L390.30,168.47 L391.30,165.65 L392.30,162.61 L393.30,159.33 L394.30,155.82 L395.30,152.09 L396.31,148.14 L397.31,143.99 L398.31,139.65 L399.32,135.13 L400.32,130.47 L401.33,125.69 L402.34,120.81 L403.35,115.89 L404.35,110.94 L405.36,106.02 L406.37,101.17 L407.38,96.44 L408.39,91.87 L409.41,87.52 L410.42,83.43 L411.43,79.65 L412.44,76.24 L413.46,73.24 L414.47,70.69 L415.49,68.63 L416.50,67.11 L417.52,66.14 L418.54,65.77 L419.56,66.01 L420.58,66.88 L421.60,68.15 L422.62,70.03 L423.64,74.44 L424.66,81.19 L425.68,89.98 L426.70,100.43 L427.73,112.13 L428.75,124.62 L429.78,137.46 L430.80,150.24 L431.83,162.59 L432.85,174.23 L433.88,184.94 L434.91,194.57 L435.94,203.05 L436.97,210.36 L438.00,216.55 L439.03,221.70 L440.06,225.91 L441.09,229.29 L442.12,231.97 L443.16,234.07 L444.19,235.70 L445.23,236.95 L446.26,237.92 L447.30,238.66 L448.34,239.24 L449.37,239.69 L450.41,240.07 L451.45,240.38 L452.49,240.65 L453.53,240.89 L454.57,241.12 L455.61,241.33 L456.66,241.54 L457.70,241.74 L458.74,241.94 L459.79,242.13 L460.83,242.33 L461.88,242.52 L462.92,242.72 L463.97,242.91 L465.02,243.10 L466.07,243.30 L467.12,243.49 L467.12,243.49 Z" fill="#7ac4cc" stroke="#111" stroke-width="1"/>
<path d="M83.69,191.60 L83.69,191.60 L84.54,191.76 L85.38,191.92 L86.22,192.09 L87.07,192.25 L87.91,192.41 L88.76,192.57 L89.60,192.74 L90.45,192.90 L91.30,193.06 L92.14,193.22 L92.99,193.39 L93.84,193.55 L94.69,193.71 L95.54,193.88 L96.39,194.04 L97.24,194.20 L98.09,194.37 L98.94,194.53 L99.79,194.69 L100.65,194.86 L101.50,195.02 L102.35,195.18 L103.21,195.35 L104.06,195.51 L104.92,195.68 L105.77,195.84 L106.63,196.01 L107.48,196.17 L108.34,196.33 L109.20,196.50 L110.06,196.66 L110.92,196.83 L111.78,196.99 L112.63,197.16 L113.50,197.32 L114.36,197.49 L115.22,197.66 L116.08,197.82 L116.94,197.99 L117.80,198.15 L118.67,198.32 L119.53,198.48 L120.40,198.65 L121.26,198.82 L122.13,198.98 L122.99,199.15 L123.86,199.31 L124.73,199.48 L125.59,199.65 L126.46,199.81 L127.33,199.98 L128.20,200.15 L129.07,200.32 L129.94,200.48 L130.81,200.65 L131.68,200.82 L132.55,200.98 L133.43,201.15 L134.30,201.32 L135.17,201.49 L136.05,201.66 L136.92,201.82 L137.80,201.99 L138.67,202.16 L139.55,202.33 L140.43,202.50 L141.30,202.67 L142.18,202.83 L143.06,203.00 L143.94,203.17 L144.82,203.34 L145.70,203.51 L146.58,203.68 L147.46,203.85 L148.34,204.02 L149.22,204.19 L150.11,204.36 L150.99,204.53 L151.87,204.70 L152.76,204.87 L153.64,205.03 L154.53,205.21 L155.41,205.38 L156.30,205.55 L157.19,205.72 L158.07,205.89 L158.96,206.06 L159.85,206.23 L160.74,206.40 L161.63,206.57 L162.52,206.74 L163.41,206.91 L164.30,207.08 L165.19,207.25 L166.09,207.43 L166.98,207.60 L167.87,207.77 L168.77,207.94 L169.66,208.11 L170.56,208.28 L171.45,208.46 L172.35,208.63 L173.25,208.80 L174.14,208.97 L175.04,209.15 L175.94,209.32 L176.84,209.49 L177.74,209.66 L178.64,209.84 L179.54,210.01 L180.44,210.18 L181.34,210.36 L182.25,210.53 L183.15,210.70 L184.05,210.88 L184.96,211.05 L185.86,211.22 L186.77,211.40 L187.67,211.57 L188.58,211.75 L189.49,211.92 L190.39,212.09 L191.30,212.27 L192.21,212.44 L193.12,212.62 L194.03,212.79 L194.94,212.97 L195.85,213.14 L196.76,213.32 L197.67,213.49 L198.59,213.67 L199.50,213.84 L200.41,214.02 L201.33,214.19 L202.24,214.37 L203.16,214.55 L204.08,214.72 L204.99,214.90 L205.91,215.07 L206.83,215.25 L207.75,215.43 L208.67,215.60 L209.58,215.78 L210.50,215.96 L211.43,216.13 L212.35,216.31 L213.27,216.49 L214.19,216.66 L215.11,216.84 L216.04,217.01 L216.96,217.19 L217.89,217.36 L218.81,217.52 L219.74,217.69 L220.66,217.85 L221.59,218.01 L222.52,218.17 L223.45,218.33 L224.38,218.48 L225.31,218.64 L226.24,218.79 L227.17,218.94 L228.10,219.08 L229.03,219.23 L229.96,219.38 L230.90,219.52 L231.83,219.66 L232.76,219.80 L233.70,219.94 L234.63,220.08 L235.57,220.21 L236.51,220.35 L237.44,220.48 L238.38,220.61 L239.32,220.74 L240.26,220.87 L241.20,221.00 L242.14,221.13 L243.08,221.26 L244.02,221.38 L244.96,221.51 L245.90,221.63 L246.85,221.75 L247.79,221.88 L248.74,222.00 L249.68,222.12 L250.63,222.24 L251.57,222.36 L252.52,222.46 L253.47,222.56 L254.41,222.65 L255.36,222.72 L256.31,222.79 L257.26,222.85 L258.21,222.91 L259.16,222.95 L260.11,223.00 L261.07,223.03 L262.02,223.07 L262.97,223.09 L263.93,223.12 L264.88,223.15 L265.84,223.17 L266.79,223.19 L267.75,223.21 L268.71,223.24 L269.66,223.26 L270.62,223.29 L271.58,223.30 L272.54,223.30 L273.50,223.28 L274.46,223.24 L275.42,223.20 L276.38,223.14 L277.35,223.08 L278.31,223.02 L279.27,222.95 L280.24,222.89 L281.20,222.83 L282.17,222.77 L283.14,222.73 L284.10,222.69 L285.07,222.67 L286.04,222.67 L287.01,222.68 L287.98,222.72 L288.95,222.78 L289.92,222.87 L290.89,222.99 L291.86,223.14 L292.83,223.32 L293.81,223.53 L294.78,223.75 L295.75,223.98 L296.73,224.23 L297.71,224.49 L298.68,224.77 L299.66,225.06 L300.64,225.35 L301.61,225.65 L302.59,225.96 L303.57,226.27 L304.55,226.59 L305.53,226.91 L306.51,227.23 L307.50,227.55 L308.48,227.86 L309.46,228.18 L310.45,228.49 L311.43,228.79 L312.42,229.09 L313.40,229.37 L314.39,229.65 L315.38,229.91 L316.36,230.17 L317.35,230.40 L318.34,230.63 L319.33,230.83 L320.32,231.02 L321.31,231.17 L322.30,231.29 L323.30,231.39 L324.29,231.47 L325.28,231.52 L326.28,231.57 L327.27,231.60 L328.27,231.62 L329.26,231.64 L330.26,231.66 L331.26,231.69 L332.26,231.71 L333.26,231.74 L334.25,231.76 L335.25,231.77 L336.26,231.78 L337.26,231.78 L338.26,231.78 L339.26,231.76 L340.27,231.73 L341.27,231.69 L342.27,231.64 L343.28,231.58 L344.29,231.50 L345.29,231.40 L346.30,231.28 L347.31,231.15 L348.32,230.99 L349.33,230.82 L350.34,230.62 L351.35,230.38 L352.36,230.06 L353.37,229.62 L354.38,229.09 L355.40,228.47 L356.41,227.77 L357.42,227.02 L358.44,226.21 L359.46,225.36 L360.47,224.47 L361.49,223.46 L362.51,222.27 L363.53,220.92 L364.55,219.44 L365.57,217.87 L366.59,216.25 L367.61,214.58 L368.63,212.92 L369.65,211.28 L370.68,209.70 L371.70,208.20 L372.73,206.73 L373.75,205.14 L374.78,203.43 L375.80,201.61 L376.83,199.70 L377.86,197.71 L378.89,195.66 L379.92,193.58 L380.95,191.46 L381.98,189.33 L383.01,187.15 L384.04,184.80 L385.08,182.27 L386.11,179.54 L387.14,176.62 L388.18,173.50 L389.21,170.18 L390.25,166.67 L391.29,162.96 L392.33,159.07 L393.36,155.02 L394.40,150.80 L395.44,146.46 L396.48,142.00 L397.53,137.47 L398.57,132.88 L399.61,128.28 L400.65,123.71 L401.70,119.20 L402.74,114.80 L403.79,110.57 L404.83,106.53 L405.88,102.76 L406.93,99.29 L407.98,96.18 L409.03,93.48 L410.08,91.22 L411.13,89.47 L412.18,88.25 L413.23,87.61 L414.28,87.58 L415.33,88.18 L416.39,89.44 L417.44,91.38 L418.50,93.57 L419.55,95.28 L420.61,99.27 L421.67,105.37 L422.73,113.35 L423.79,122.87 L424.84,133.59 L425.90,145.13 L426.97,157.08 L428.03,169.10 L429.09,180.85 L430.15,192.06 L431.22,202.52 L432.28,212.06 L433.35,220.60 L434.41,228.09 L435.48,234.55 L436.55,240.03 L437.62,244.59 L438.68,248.34 L439.75,251.38 L440.82,253.81 L441.90,255.73 L442.97,257.24 L444.04,258.42 L445.11,259.34 L446.19,260.07 L447.26,260.65 L448.34,261.11 L449.41,261.50 L450.49,261.82 L451.57,262.11 L452.65,262.37 L453.73,262.61 L454.81,262.84 L455.89,263.07 L456.97,263.28 L458.05,263.49 L459.13,263.71 L460.22,263.92 L461.30,264.12 L462.39,264.33 L463.47,264.54 L464.56,264.75 L465.65,264.96 L465.65,264.96 Z" fill="#7ac4cc" stroke="#111" stroke-width="1"/>
<path d="M69.54,209.39 L69.54,209.39 L70.41,209.57 L71.28,209.74 L72.14,209.91 L73.01,210.08 L73.88,210.26 L74.75,210.43 L75.62,210.60 L76.49,210.78 L77.36,210.95 L78.23,211.13 L79.10,211.30 L79.98,211.47 L80.85,211.65 L81.72,211.82 L82.60,212.00 L83.47,212.17 L84.35,212.35 L85.22,212.52 L86.10,212.69 L86.98,212.87 L87.85,213.04 L88.73,213.22 L89.61,213.39 L90.49,213.57 L91.37,213.75 L92.25,213.92 L93.13,214.10 L94.01,214.27 L94.89,214.45 L95.78,214.62 L96.66,214.80 L97.54,214.98 L98.43,215.15 L99.31,215.33 L100.20,215.51 L101.08,215.68 L101.97,215.86 L102.85,216.04 L103.74,216.21 L104.63,216.39 L105.52,216.57 L106.41,216.74 L107.30,216.92 L108.19,217.10 L109.08,217.28 L109.97,217.45 L110.86,217.63 L111.75,217.81 L112.65,217.99 L113.54,218.17 L114.43,218.34 L115.33,218.52 L116.22,218.70 L117.12,218.88 L118.02,219.06 L118.91,219.24 L119.81,219.42 L120.71,219.60 L121.61,219.78 L122.51,219.95 L123.41,220.13 L124.31,220.31 L125.21,220.49 L126.11,220.67 L127.01,220.85 L127.91,221.03 L128.82,221.21 L129.72,221.39 L130.63,221.57 L131.53,221.75 L132.44,221.93 L133.34,222.12 L134.25,222.30 L135.16,222.48 L136.06,222.66 L136.97,222.84 L137.88,223.02 L138.79,223.20 L139.70,223.38 L140.61,223.57 L141.52,223.75 L142.43,223.93 L143.35,224.11 L144.26,224.29 L145.17,224.47 L146.09,224.66 L147.00,224.84 L147.92,225.02 L148.83,225.20 L149.75,225.39 L150.67,225.57 L151.59,225.75 L152.50,225.94 L153.42,226.12 L154.34,226.30 L155.26,226.49 L156.18,226.67 L157.10,226.85 L158.03,227.04 L158.95,227.22 L159.87,227.41 L160.79,227.59 L161.72,227.77 L162.64,227.96 L163.57,228.14 L164.50,228.33 L165.42,228.51 L166.35,228.70 L167.28,228.88 L168.20,229.07 L169.13,229.25 L170.06,229.44 L170.99,229.62 L171.92,229.81 L172.86,229.99 L173.79,230.18 L174.72,230.37 L175.65,230.55 L176.59,230.74 L177.52,230.93 L178.46,231.11 L179.39,231.30 L180.33,231.49 L181.26,231.67 L182.20,231.86 L183.14,232.05 L184.08,232.23 L185.02,232.42 L185.96,232.61 L186.90,232.80 L187.84,232.98 L188.78,233.17 L189.72,233.36 L190.67,233.55 L191.61,233.73 L192.55,233.92 L193.50,234.11 L194.44,234.30 L195.39,234.49 L196.34,234.68 L197.28,234.87 L198.23,235.06 L199.18,235.24 L200.13,235.43 L201.08,235.62 L202.03,235.81 L202.98,236.00 L203.93,236.19 L204.88,236.38 L205.83,236.57 L206.79,236.76 L207.74,236.95 L208.70,237.14 L209.65,237.33 L210.61,237.52 L211.56,237.71 L212.52,237.90 L213.48,238.10 L214.44,238.29 L215.40,238.48 L216.36,238.67 L217.32,238.86 L218.28,239.05 L219.24,239.24 L220.20,239.44 L221.16,239.63 L222.13,239.82 L223.09,240.01 L224.05,240.20 L225.02,240.40 L225.98,240.59 L226.95,240.78 L227.92,240.98 L228.89,241.17 L229.85,241.36 L230.82,241.55 L231.79,241.75 L232.76,241.94 L233.73,242.14 L234.71,242.33 L235.68,242.52 L236.65,242.72 L237.62,242.91 L238.60,243.11 L239.57,243.30 L240.55,243.49 L241.52,243.69 L242.50,243.88 L243.48,244.08 L244.46,244.26 L245.44,244.40 L246.41,244.51 L247.39,244.58 L248.38,244.61 L249.36,244.62 L250.34,244.60 L251.32,244.56 L252.30,244.49 L253.29,244.41 L254.27,244.32 L255.26,244.21 L256.24,244.10 L257.23,243.98 L258.22,243.85 L259.20,243.73 L260.19,243.62 L261.18,243.50 L262.17,243.40 L263.16,243.32 L264.15,243.25 L265.14,243.20 L266.14,243.17 L267.13,243.14 L268.12,243.10 L269.12,243.04 L270.11,242.99 L271.11,242.92 L272.10,242.85 L273.10,242.78 L274.10,242.72 L275.10,242.65 L276.10,242.59 L277.10,242.54 L278.10,242.50 L279.10,242.48 L280.10,242.46 L281.10,242.47 L282.10,242.49 L283.11,242.54 L284.11,242.60 L285.12,242.70 L286.12,242.82 L287.13,242.98 L288.14,243.17 L289.14,243.40 L290.15,243.67 L291.16,243.98 L292.17,244.31 L293.18,244.65 L294.19,245.01 L295.20,245.36 L296.22,245.70 L297.23,246.03 L298.24,246.33 L299.26,246.60 L300.27,246.86 L301.29,247.13 L302.31,247.39 L303.32,247.66 L304.34,247.92 L305.36,248.18 L306.38,248.44 L307.40,248.70 L308.42,248.95 L309.44,249.20 L310.46,249.45 L311.48,249.69 L312.51,249.94 L313.53,250.17 L314.56,250.40 L315.58,250.63 L316.61,250.86 L317.63,251.07 L318.66,251.28 L319.69,251.49 L320.72,251.66 L321.75,251.75 L322.78,251.78 L323.81,251.76 L324.84,251.69 L325.87,251.58 L326.91,251.44 L327.94,251.28 L328.98,251.12 L330.01,250.95 L331.05,250.79 L332.08,250.64 L333.12,250.46 L334.16,250.25 L335.20,250.02 L336.24,249.77 L337.28,249.49 L338.32,249.19 L339.36,248.88 L340.40,248.54 L341.44,248.19 L342.49,247.82 L343.53,247.44 L344.58,247.05 L345.62,246.65 L346.67,246.23 L347.72,245.81 L348.77,245.37 L349.81,244.93 L350.86,244.48 L351.91,244.02 L352.96,243.53 L354.02,242.99 L355.07,242.42 L356.12,241.81 L357.18,241.17 L358.23,240.49 L359.28,239.79 L360.34,239.06 L361.40,238.30 L362.45,237.54 L363.51,236.76 L364.57,235.93 L365.63,235.03 L366.69,234.01 L367.75,232.84 L368.81,231.48 L369.88,229.90 L370.94,227.74 L372.00,224.93 L373.07,221.75 L374.13,218.48 L375.20,215.40 L376.27,212.79 L377.33,210.82 L378.40,208.83 L379.47,206.63 L380.54,204.22 L381.61,201.59 L382.68,198.74 L383.75,195.67 L384.83,192.38 L385.90,188.88 L386.98,185.17 L388.05,181.26 L389.13,177.17 L390.20,172.92 L391.28,168.52 L392.36,164.00 L393.44,159.40 L394.52,154.74 L395.60,150.05 L396.68,145.39 L397.76,140.79 L398.84,136.31 L399.92,131.98 L401.01,127.86 L402.09,124.00 L403.18,120.46 L404.26,117.29 L405.35,114.54 L406.44,112.26 L407.53,110.51 L408.62,109.32 L409.71,108.76 L410.80,108.84 L411.89,109.62 L412.98,111.11 L414.07,113.35 L415.17,116.34 L416.26,118.47 L417.36,120.77 L418.45,125.12 L419.55,131.34 L420.65,139.23 L421.75,148.48 L422.85,158.78 L423.95,169.79 L425.05,181.18 L426.15,192.62 L427.25,203.82 L428.35,214.55 L429.46,224.60 L430.56,233.84 L431.67,242.17 L432.77,249.55 L433.88,255.98 L434.99,261.50 L436.10,266.16 L437.20,270.05 L438.31,273.24 L439.43,275.83 L440.54,277.92 L441.65,279.58 L442.76,280.91 L443.88,281.96 L444.99,282.79 L446.11,283.46 L447.22,284.00 L448.34,284.45 L449.46,284.83 L450.58,285.16 L451.70,285.46 L452.82,285.73 L453.94,285.99 L455.06,286.24 L456.18,286.47 L457.30,286.71 L458.43,286.93 L459.55,287.16 L460.68,287.39 L461.81,287.61 L462.93,287.84 L464.06,288.07 L464.06,288.07 Z" fill="#7ac4cc" stroke="#111" stroke-width="1"/>
<path d="M54.41,228.42 L54.41,228.42 L55.30,228.60 L56.20,228.79 L57.09,228.97 L57.98,229.16 L58.88,229.34 L59.77,229.53 L60.67,229.71 L61.56,229.90 L62.46,230.08 L63.36,230.27 L64.25,230.46 L65.15,230.64 L66.05,230.83 L66.95,231.01 L67.85,231.20 L68.75,231.39 L69.65,231.57 L70.55,231.76 L71.45,231.95 L72.36,232.14 L73.26,232.32 L74.16,232.51 L75.07,232.70 L75.97,232.89 L76.88,233.07 L77.78,233.26 L78.69,233.45 L79.60,233.64 L80.51,233.83 L81.41,234.01 L82.32,234.20 L83.23,234.39 L84.14,234.58 L85.05,234.77 L85.97,234.96 L86.88,235.15 L87.79,235.34 L88.70,235.53 L89.62,235.72 L90.53,235.90 L91.45,236.09 L92.36,236.28 L93.28,236.47 L94.20,236.66 L95.11,236.85 L96.03,237.05 L96.95,237.24 L97.87,237.43 L98.79,237.62 L99.71,237.81 L100.63,238.00 L101.55,238.19 L102.48,238.38 L103.40,238.57 L104.32,238.76 L105.25,238.96 L106.17,239.15 L107.10,239.34 L108.02,239.53 L108.95,239.72 L109.87,239.92 L110.80,240.11 L111.73,240.30 L112.66,240.49 L113.59,240.69 L114.52,240.88 L115.45,241.07 L116.38,241.26 L117.31,241.46 L118.25,241.65 L119.18,241.84 L120.11,242.04 L121.05,242.23 L121.98,242.43 L122.92,242.62 L123.85,242.81 L124.79,243.01 L125.73,243.20 L126.67,243.40 L127.61,243.59 L128.54,243.79 L129.48,243.98 L130.43,244.18 L131.37,244.37 L132.31,244.57 L133.25,244.76 L134.19,244.96 L135.14,245.15 L136.08,245.35 L137.03,245.55 L137.97,245.74 L138.92,245.94 L139.87,246.13 L140.81,246.33 L141.76,246.53 L142.71,246.72 L143.66,246.92 L144.61,247.12 L145.56,247.31 L146.51,247.51 L147.46,247.71 L148.41,247.91 L149.37,248.10 L150.32,248.30 L151.28,248.50 L152.23,248.70 L153.19,248.90 L154.14,249.09 L155.10,249.29 L156.06,249.49 L157.02,249.69 L157.97,249.89 L158.93,250.09 L159.89,250.29 L160.85,250.49 L161.82,250.69 L162.78,250.89 L163.74,251.08 L164.70,251.28 L165.67,251.48 L166.63,251.68 L167.60,251.88 L168.56,252.09 L169.53,252.29 L170.50,252.49 L171.47,252.69 L172.43,252.89 L173.40,253.09 L174.37,253.29 L175.34,253.49 L176.31,253.69 L177.29,253.89 L178.26,254.10 L179.23,254.30 L180.21,254.50 L181.18,254.70 L182.15,254.90 L183.13,255.11 L184.11,255.31 L185.08,255.51 L186.06,255.71 L187.04,255.92 L188.02,256.12 L189.00,256.32 L189.98,256.53 L190.96,256.73 L191.94,256.93 L192.92,257.14 L193.91,257.34 L194.89,257.54 L195.87,257.75 L196.86,257.95 L197.84,258.15 L198.83,258.35 L199.82,258.56 L200.81,258.76 L201.79,258.96 L202.78,259.16 L203.77,259.36 L204.76,259.56 L205.75,259.76 L206.74,259.96 L207.74,260.16 L208.73,260.36 L209.72,260.56 L210.72,260.76 L211.71,260.96 L212.71,261.16 L213.70,261.36 L214.70,261.56 L215.70,261.75 L216.70,261.95 L217.70,262.15 L218.70,262.34 L219.70,262.54 L220.70,262.74 L221.70,262.93 L222.70,263.13 L223.70,263.32 L224.71,263.52 L225.71,263.71 L226.72,263.90 L227.72,264.10 L228.73,264.29 L229.74,264.48 L230.75,264.68 L231.75,264.87 L232.76,265.06 L233.77,265.25 L234.78,265.44 L235.80,265.63 L236.81,265.82 L237.82,266.01 L238.83,266.20 L239.85,266.39 L240.86,266.53 L241.88,266.64 L242.89,266.70 L243.91,266.73 L244.93,266.72 L245.95,266.69 L246.97,266.63 L247.99,266.55 L249.01,266.45 L250.03,266.34 L251.05,266.21 L252.07,266.07 L253.10,265.94 L254.12,265.80 L255.14,265.66 L256.17,265.53 L257.20,265.40 L258.22,265.30 L259.25,265.20 L260.28,265.13 L261.31,265.08 L262.34,265.06 L263.37,265.07 L264.40,265.12 L265.43,265.20 L266.46,265.32 L267.49,265.45 L268.53,265.59 L269.56,265.74 L270.60,265.89 L271.63,266.04 L272.67,266.20 L273.71,266.36 L274.75,266.53 L275.79,266.70 L276.83,266.87 L277.87,267.04 L278.91,267.22 L279.95,267.39 L280.99,267.56 L282.03,267.73 L283.08,267.90 L284.12,268.07 L285.17,268.24 L286.21,268.40 L287.26,268.56 L288.31,268.71 L289.36,268.86 L290.41,269.00 L291.46,269.13 L292.51,269.26 L293.56,269.39 L294.61,269.51 L295.66,269.62 L296.72,269.73 L297.77,269.84 L298.82,269.94 L299.88,270.03 L300.94,270.13 L301.99,270.21 L303.05,270.30 L304.11,270.38 L305.17,270.45 L306.23,270.52 L307.29,270.59 L308.35,270.65 L309.41,270.71 L310.48,270.76 L311.54,270.80 L312.61,270.83 L313.67,270.86 L314.74,270.88 L315.80,270.89 L316.87,270.89 L317.94,270.88 L319.01,270.86 L320.08,270.83 L321.15,270.78 L322.22,270.73 L323.29,270.66 L324.37,270.57 L325.44,270.43 L326.51,270.25 L327.59,270.03 L328.66,269.77 L329.74,269.49 L330.82,269.19 L331.90,268.86 L332.98,268.52 L334.06,268.16 L335.14,267.80 L336.22,267.43 L337.30,267.07 L338.38,266.70 L339.47,266.34 L340.55,266.00 L341.63,265.67 L342.72,265.35 L343.81,265.05 L344.89,264.78 L345.98,264.54 L347.07,264.32 L348.16,264.12 L349.25,263.92 L350.34,263.71 L351.43,263.48 L352.53,263.21 L353.62,262.89 L354.72,262.51 L355.81,262.06 L356.91,261.50 L358.00,260.84 L359.10,260.05 L360.20,259.05 L361.30,257.67 L362.40,256.00 L363.50,254.16 L364.60,252.23 L365.70,250.31 L366.80,248.39 L367.91,246.25 L369.01,243.96 L370.12,241.61 L371.22,239.28 L372.33,237.08 L373.44,234.97 L374.55,232.68 L375.66,230.20 L376.77,227.52 L377.88,224.63 L378.99,221.55 L380.10,218.25 L381.21,214.76 L382.33,211.08 L383.44,207.21 L384.56,203.17 L385.68,198.97 L386.79,194.65 L387.91,190.21 L389.03,185.69 L390.15,181.13 L391.27,176.56 L392.39,172.01 L393.51,167.53 L394.64,163.17 L395.76,158.97 L396.88,154.98 L398.01,151.25 L399.14,147.84 L400.26,144.78 L401.39,142.13 L402.52,139.94 L403.65,138.26 L404.78,137.11 L405.91,136.55 L407.04,136.60 L408.17,137.30 L409.31,138.67 L410.44,140.71 L411.58,143.00 L412.71,144.41 L413.85,147.61 L414.99,152.50 L416.13,158.93 L417.27,166.69 L418.41,175.55 L419.55,185.25 L420.69,195.51 L421.83,206.08 L422.97,216.68 L424.12,227.10 L425.26,237.14 L426.41,246.62 L427.56,255.44 L428.70,263.50 L429.85,270.76 L431.00,277.20 L432.15,282.83 L433.30,287.70 L434.45,291.85 L435.61,295.34 L436.76,298.26 L437.91,300.67 L439.07,302.64 L440.23,304.25 L441.38,305.56 L442.54,306.62 L443.70,307.48 L444.86,308.19 L446.02,308.77 L447.18,309.26 L448.34,309.69 L449.50,310.06 L450.67,310.39 L451.83,310.69 L453.00,310.98 L454.16,311.25 L455.33,311.51 L456.50,311.77 L457.67,312.02 L458.84,312.27 L460.01,312.51 L461.18,312.76 L462.35,313.00 L462.35,313.00 Z" fill="#7ac4cc" stroke="#111" stroke-width="1"/>
<path d="M38.20,248.80 L38.20,248.80 L39.12,249.00 L40.04,249.20 L40.96,249.40 L41.88,249.59 L42.80,249.79 L43.72,249.99 L44.64,250.19 L45.56,250.39 L46.49,250.59 L47.41,250.79 L48.33,250.99 L49.26,251.19 L50.18,251.39 L51.11,251.59 L52.04,251.79 L52.97,251.99 L53.89,252.19 L54.82,252.39 L55.75,252.59 L56.68,252.79 L57.61,252.99 L58.54,253.19 L59.48,253.39 L60.41,253.60 L61.34,253.80 L62.27,254.00 L63.21,254.20 L64.14,254.40 L65.08,254.60 L66.02,254.81 L66.95,255.01 L67.89,255.21 L68.83,255.41 L69.77,255.62 L70.71,255.82 L71.65,256.02 L72.59,256.23 L73.53,256.43 L74.47,256.63 L75.41,256.84 L76.36,257.04 L77.30,257.24 L78.24,257.45 L79.19,257.65 L80.13,257.86 L81.08,258.06 L82.03,258.27 L82.98,258.47 L83.92,258.67 L84.87,258.88 L85.82,259.08 L86.77,259.29 L87.72,259.50 L88.67,259.70 L89.63,259.91 L90.58,260.11 L91.53,260.32 L92.49,260.52 L93.44,260.73 L94.40,260.94 L95.35,261.14 L96.31,261.35 L97.27,261.56 L98.23,261.76 L99.18,261.97 L100.14,262.18 L101.10,262.38 L102.06,262.59 L103.02,262.80 L103.99,263.01 L104.95,263.22 L105.91,263.42 L106.88,263.63 L107.84,263.84 L108.81,264.05 L109.77,264.26 L110.74,264.47 L111.71,264.67 L112.67,264.88 L113.64,265.09 L114.61,265.30 L115.58,265.51 L116.55,265.72 L117.52,265.93 L118.49,266.14 L119.47,266.35 L120.44,266.56 L121.41,266.77 L122.39,266.98 L123.36,267.19 L124.34,267.40 L125.32,267.61 L126.29,267.82 L127.27,268.04 L128.25,268.25 L129.23,268.46 L130.21,268.67 L131.19,268.88 L132.17,269.09 L133.15,269.31 L134.13,269.52 L135.12,269.73 L136.10,269.94 L137.09,270.16 L138.07,270.37 L139.06,270.58 L140.04,270.79 L141.03,271.01 L142.02,271.22 L143.01,271.43 L144.00,271.65 L144.99,271.86 L145.98,272.08 L146.97,272.29 L147.96,272.50 L148.95,272.72 L149.95,272.93 L150.94,273.15 L151.94,273.36 L152.93,273.58 L153.93,273.79 L154.92,274.01 L155.92,274.22 L156.92,274.44 L157.92,274.65 L158.92,274.87 L159.92,275.09 L160.92,275.30 L161.92,275.52 L162.92,275.74 L163.93,275.95 L164.93,276.17 L165.94,276.39 L166.94,276.60 L167.95,276.82 L168.95,277.04 L169.96,277.26 L170.97,277.47 L171.98,277.69 L172.99,277.91 L174.00,278.13 L175.01,278.35 L176.02,278.56 L177.03,278.78 L178.04,279.00 L179.06,279.22 L180.07,279.44 L181.09,279.66 L182.10,279.88 L183.12,280.10 L184.14,280.32 L185.16,280.53 L186.17,280.75 L187.19,280.97 L188.21,281.19 L189.23,281.41 L190.26,281.63 L191.28,281.85 L192.30,282.07 L193.32,282.29 L194.35,282.50 L195.37,282.72 L196.40,282.94 L197.43,283.16 L198.45,283.38 L199.48,283.60 L200.51,283.81 L201.54,284.03 L202.57,284.25 L203.60,284.47 L204.63,284.69 L205.66,284.90 L206.70,285.12 L207.73,285.34 L208.77,285.56 L209.80,285.77 L210.84,285.99 L211.87,286.21 L212.91,286.42 L213.95,286.64 L214.99,286.85 L216.03,287.07 L217.07,287.29 L218.11,287.50 L219.15,287.72 L220.19,287.93 L221.24,288.15 L222.28,288.36 L223.33,288.58 L224.37,288.79 L225.42,289.01 L226.47,289.22 L227.51,289.44 L228.56,289.65 L229.61,289.86 L230.66,290.08 L231.71,290.29 L232.76,290.50 L233.82,290.71 L234.87,290.88 L235.92,291.00 L236.98,291.09 L238.03,291.14 L239.09,291.16 L240.15,291.15 L241.20,291.11 L242.26,291.06 L243.32,290.99 L244.38,290.92 L245.44,290.83 L246.50,290.75 L247.56,290.66 L248.63,290.58 L249.69,290.51 L250.76,290.46 L251.82,290.42 L252.89,290.41 L253.95,290.43 L255.02,290.47 L256.09,290.54 L257.16,290.62 L258.23,290.71 L259.30,290.80 L260.37,290.90 L261.44,291.01 L262.51,291.12 L263.59,291.24 L264.66,291.35 L265.74,291.47 L266.81,291.59 L267.89,291.72 L268.97,291.84 L270.05,291.96 L271.12,292.08 L272.20,292.19 L273.29,292.31 L274.37,292.42 L275.45,292.52 L276.53,292.62 L277.62,292.72 L278.70,292.82 L279.79,292.91 L280.87,293.01 L281.96,293.11 L283.05,293.20 L284.13,293.29 L285.22,293.37 L286.31,293.44 L287.40,293.51 L288.50,293.56 L289.59,293.61 L290.68,293.64 L291.78,293.65 L292.87,293.66 L293.97,293.65 L295.06,293.62 L296.16,293.58 L297.26,293.54 L298.36,293.48 L299.46,293.41 L300.56,293.33 L301.66,293.24 L302.76,293.14 L303.86,293.03 L304.97,292.91 L306.07,292.79 L307.17,292.66 L308.28,292.50 L309.39,292.32 L310.50,292.12 L311.60,291.90 L312.71,291.66 L313.82,291.41 L314.93,291.14 L316.05,290.86 L317.16,290.57 L318.27,290.28 L319.39,289.98 L320.50,289.67 L321.62,289.36 L322.73,289.04 L323.85,288.73 L324.97,288.42 L326.09,288.11 L327.21,287.77 L328.33,287.33 L329.45,286.90 L330.57,286.56 L331.69,286.44 L332.82,286.46 L333.94,286.50 L335.07,286.54 L336.20,286.59 L337.32,286.63 L338.45,286.66 L339.58,286.68 L340.71,286.68 L341.84,286.64 L342.97,286.57 L344.10,286.46 L345.24,286.29 L346.37,286.06 L347.51,285.76 L348.64,285.37 L349.78,284.91 L350.92,284.35 L352.05,283.70 L353.19,282.94 L354.33,282.04 L355.47,281.00 L356.61,279.79 L357.76,278.41 L358.90,276.79 L360.04,274.81 L361.19,272.53 L362.34,270.01 L363.48,267.31 L364.63,264.48 L365.78,261.58 L366.93,258.67 L368.08,255.62 L369.23,252.39 L370.38,248.97 L371.53,245.34 L372.69,241.50 L373.84,237.45 L375.00,233.40 L376.15,229.77 L377.31,226.48 L378.47,223.46 L379.62,220.60 L380.78,217.82 L381.94,215.04 L383.11,212.17 L384.27,209.15 L385.43,205.90 L386.60,202.34 L387.76,198.41 L388.93,194.03 L390.09,189.22 L391.26,184.51 L392.43,180.04 L393.60,175.86 L394.77,172.00 L395.94,168.51 L397.11,165.42 L398.28,162.76 L399.46,160.56 L400.63,158.85 L401.81,157.64 L402.98,156.95 L404.16,156.78 L405.34,157.58 L406.52,160.12 L407.70,164.37 L408.88,170.19 L410.06,177.41 L411.24,185.84 L412.42,195.24 L413.61,205.37 L414.79,215.98 L415.98,226.81 L417.17,237.65 L418.35,248.27 L419.54,258.50 L420.73,268.19 L421.92,277.23 L423.11,285.54 L424.31,293.07 L425.50,299.80 L426.69,305.75 L427.89,310.93 L429.08,315.40 L430.28,319.22 L431.48,322.44 L432.68,325.14 L433.88,327.39 L435.08,329.24 L436.28,330.77 L437.48,332.02 L438.68,333.05 L439.89,333.90 L441.09,334.61 L442.30,335.21 L443.51,335.71 L444.71,336.16 L445.92,336.55 L447.13,336.90 L448.34,337.23 L449.55,337.54 L450.77,337.83 L451.98,338.12 L453.19,338.39 L454.41,338.67 L455.63,338.94 L456.84,339.20 L458.06,339.47 L459.28,339.73 L460.50,340.00 L460.50,340.00 Z" fill="#7ac4cc" stroke="#111" stroke-width="1"/>
<path d="M194.8,51.9L38.2,248.8" stroke="#111" stroke-width="1"/>
<path d="M47.9,247.3L43.9,255.7" stroke="#111" stroke-width="1"/>
<text x="34.2" y="271.6" class="tkA" text-anchor="middle">5</text>
<path d="M112.2,259.4L108.2,267.8" stroke="#111" stroke-width="1"/>
<text x="98.5" y="286.3" class="tkA" text-anchor="middle">4</text>
<path d="M177.3,274.0L173.3,282.4" stroke="#111" stroke-width="1"/>
<text x="165.5" y="299.4" class="tkA" text-anchor="middle">3</text>
<path d="M246.1,288.9L242.1,297.3" stroke="#111" stroke-width="1"/>
<text x="236.0" y="315.0" class="tkA" text-anchor="middle">2</text>
<path d="M318.0,305.7L314.0,314.1" stroke="#111" stroke-width="1"/>
<text x="310.3" y="331.8" class="tkA" text-anchor="middle">1</text>
<path d="M393.3,322.4L389.3,330.8" stroke="#111" stroke-width="1"/>
<text x="388.0" y="349.0" class="tkA" text-anchor="middle">0</text>
<path d="M175.9,75.7L170.9,74.6" stroke="#111" stroke-width="1"/>
<path d="M150.3,107.8L145.3,106.7" stroke="#111" stroke-width="1"/>
<path d="M121.4,144.2L116.4,143.1" stroke="#111" stroke-width="1"/>
<path d="M88.9,185.0L83.9,183.9" stroke="#111" stroke-width="1"/>
<path d="M49.0,235.2L44.0,234.1" stroke="#111" stroke-width="1"/>
<path d="M477.6,90.6L460.5,340" stroke="#333" stroke-width="0.9"/>
<path d="M475.6,119.7L481.1,120.9" stroke="#333" stroke-width="1"/>
<text x="492.0" y="127.9" class="tkA" text-anchor="middle">2.5</text>
<path d="M472.9,158.8L478.4,160.0" stroke="#333" stroke-width="1"/>
<text x="490.0" y="166.2" class="tkA" text-anchor="middle">2</text>
<path d="M469.8,203.3L475.3,204.5" stroke="#333" stroke-width="1"/>
<text x="490.3" y="211.7" class="tkA" text-anchor="middle">1.5</text>
<path d="M466.2,256.5L471.7,257.7" stroke="#333" stroke-width="1"/>
<text x="487.0" y="266.0" class="tkA" text-anchor="middle">1</text>
<path d="M461.7,322.3L467.2,323.5" stroke="#333" stroke-width="1"/>
<text x="485.9" y="332.3" class="tkA" text-anchor="middle">0.5</text>
<circle cx="258.7" cy="710.5" r="5.2" fill="#ff0000"/>
<circle cx="264.5" cy="713.0" r="5.2" fill="#ff0000"/>
<circle cx="270.5" cy="717.0" r="5.2" fill="#ff0000"/>
<circle cx="258.0" cy="717.0" r="5.2" fill="#ff0000"/>
<circle cx="258.0" cy="723.0" r="5.2" fill="#ff0000"/>
<circle cx="264.0" cy="721.0" r="5.2" fill="#ff0000"/>
<circle cx="270.0" cy="722.0" r="5.2" fill="#ff0000"/>
<circle cx="256.0" cy="728.0" r="5.2" fill="#ff0000"/>
<circle cx="263.0" cy="728.0" r="5.2" fill="#ff0000"/>
<circle cx="270.0" cy="727.5" r="5.2" fill="#ff0000"/>
<circle cx="250.0" cy="736.0" r="5.2" fill="#ff0000"/>
<circle cx="248.6" cy="738.5" r="5.2" fill="#ff0000"/>
<circle cx="255.0" cy="739.0" r="5.2" fill="#ff0000"/>
<circle cx="262.0" cy="739.0" r="5.2" fill="#ff0000"/>
<circle cx="269.0" cy="739.0" r="5.2" fill="#ff0000"/>
<circle cx="276.0" cy="739.0" r="5.2" fill="#ff0000"/>
<circle cx="283.0" cy="739.0" r="5.2" fill="#ff0000"/>
<circle cx="290.0" cy="739.0" r="5.2" fill="#ff0000"/>
<circle cx="277.5" cy="734.0" r="5.2" fill="#ff0000"/>
<circle cx="285.0" cy="731.0" r="5.2" fill="#ff0000"/>
<circle cx="291.5" cy="726.0" r="5.2" fill="#ff0000"/>
<circle cx="288.0" cy="733.0" r="5.2" fill="#ff0000"/>
<circle cx="293.0" cy="732.0" r="5.2" fill="#ff0000"/>
<circle cx="285.9" cy="631.5" r="5.2" fill="#000080"/>
<circle cx="260.6" cy="642.4" r="5.2" fill="#000080"/>
<circle cx="295.9" cy="654.1" r="5.2" fill="#000080"/>
<circle cx="302.5" cy="655.3" r="5.2" fill="#000080"/>
<circle cx="256.5" cy="657.9" r="5.2" fill="#000080"/>
<circle cx="279.4" cy="664.1" r="5.2" fill="#000080"/>
<circle cx="262.5" cy="669.7" r="5.2" fill="#000080"/>
<circle cx="276.5" cy="672.6" r="5.2" fill="#000080"/>
<circle cx="284.1" cy="671.2" r="5.2" fill="#000080"/>
<circle cx="290.0" cy="673.2" r="5.2" fill="#000080"/>
<circle cx="295.9" cy="686.9" r="5.2" fill="#000080"/>
<circle cx="316.5" cy="686.9" r="5.2" fill="#000080"/>
<circle cx="295.6" cy="696.8" r="5.2" fill="#000080"/>
<circle cx="314.3" cy="696.8" r="5.2" fill="#000080"/>
<circle cx="301.9" cy="704.7" r="5.2" fill="#000080"/>
<circle cx="302.4" cy="718.8" r="5.2" fill="#000080"/>
<circle cx="338.7" cy="633.1" r="5.2" fill="#000080"/>
<circle cx="358.6" cy="641.9" r="5.2" fill="#000080"/>
<circle cx="374.6" cy="669.5" r="5.2" fill="#000080"/>
<circle cx="353.1" cy="682.5" r="5.2" fill="#000080"/>
<circle cx="336.0" cy="689.3" r="5.2" fill="#000080"/>
<circle cx="351.6" cy="711.2" r="5.2" fill="#000080"/>
<circle cx="361.1" cy="714.0" r="5.2" fill="#000080"/>
<circle cx="331.4" cy="723.9" r="5.2" fill="#000080"/>
<circle cx="333.8" cy="730.6" r="5.2" fill="#000080"/>
<circle cx="340.6" cy="738.4" r="5.2" fill="#000080"/>
<circle cx="343.8" cy="739.4" r="5.2" fill="#000080"/>
<circle cx="355.3" cy="739.4" r="5.2" fill="#000080"/>
<circle cx="167.1" cy="667.5" r="5.2" fill="#000080"/>
<circle cx="126.2" cy="676.5" r="5.2" fill="#000080"/>
<circle cx="129.8" cy="689.4" r="5.2" fill="#000080"/>
<circle cx="184.1" cy="686.8" r="5.2" fill="#000080"/>
<circle cx="203.9" cy="683.4" r="5.2" fill="#000080"/>
<circle cx="192.3" cy="697.1" r="5.2" fill="#000080"/>
<circle cx="200.6" cy="697.1" r="5.2" fill="#000080"/>
<circle cx="205.9" cy="705.4" r="5.2" fill="#000080"/>
<circle cx="211.8" cy="715.7" r="5.2" fill="#000080"/>
<circle cx="218.4" cy="715.3" r="5.2" fill="#000080"/>
<circle cx="223.5" cy="707.6" r="5.2" fill="#000080"/>
<circle cx="231.6" cy="711.3" r="5.2" fill="#000080"/>
<circle cx="157.6" cy="711.0" r="5.2" fill="#000080"/>
<circle cx="142.9" cy="723.2" r="5.2" fill="#000080"/>
<circle cx="220.9" cy="726.8" r="5.2" fill="#000080"/>
<circle cx="208.8" cy="730.9" r="5.2" fill="#000080"/>
<circle cx="180.9" cy="730.4" r="5.2" fill="#000080"/>
<circle cx="186.8" cy="730.4" r="5.2" fill="#000080"/>
<circle cx="195.6" cy="734.1" r="5.2" fill="#000080"/>
<circle cx="116.0" cy="739.0" r="5.2" fill="#000080"/>
<circle cx="119.7" cy="736.8" r="5.2" fill="#000080"/>
<circle cx="128.5" cy="737.5" r="5.2" fill="#000080"/>
<circle cx="137.4" cy="734.6" r="5.2" fill="#000080"/>
<circle cx="146.2" cy="739.0" r="5.2" fill="#000080"/>
<circle cx="151.3" cy="736.8" r="5.2" fill="#000080"/>
<circle cx="160.9" cy="739.0" r="5.2" fill="#000080"/>
<circle cx="168.2" cy="739.0" r="5.2" fill="#000080"/>
<circle cx="175.0" cy="739.3" r="5.2" fill="#000080"/>
<circle cx="181.0" cy="739.3" r="5.2" fill="#000080"/>
<circle cx="187.0" cy="739.3" r="5.2" fill="#000080"/>
<circle cx="193.0" cy="739.3" r="5.2" fill="#000080"/>
<circle cx="201.1" cy="739.3" r="5.2" fill="#000080"/>
<circle cx="209.9" cy="739.3" r="5.2" fill="#000080"/>
<circle cx="219.1" cy="739.3" r="5.2" fill="#000080"/>
<circle cx="233.8" cy="739.3" r="5.2" fill="#000080"/>
<circle cx="299.3" cy="739.5" r="5.2" fill="#000080"/>
<circle cx="304.8" cy="739.5" r="5.2" fill="#000080"/>
<circle cx="303.1" cy="719.3" r="5.2" fill="#000080"/>
<circle cx="301.8" cy="727.0" r="5.2" fill="#000080"/>
<circle cx="303.1" cy="736.0" r="5.2" fill="#000080"/>
<circle cx="294.0" cy="738.0" r="5.2" fill="#000080"/>
<circle cx="301.1" cy="703.9" r="5.2" fill="#000080"/>
<circle cx="272.1" cy="452.6" r="5.2" fill="#0000ff"/>
<circle cx="298.8" cy="478.0" r="5.2" fill="#0000ff"/>
<circle cx="260.3" cy="539.7" r="5.2" fill="#0000ff"/>
<circle cx="346.3" cy="444.6" r="5.2" fill="#0000ff"/>
<circle cx="307.3" cy="507.1" r="5.2" fill="#0000ff"/>
<circle cx="245.6" cy="566.5" r="5.2" fill="#0000ff"/>
<circle cx="282.7" cy="576.8" r="5.2" fill="#0000ff"/>
<circle cx="288.5" cy="572.8" r="5.2" fill="#0000ff"/>
<circle cx="262.1" cy="584.9" r="5.2" fill="#0000ff"/>
<circle cx="268.0" cy="592.3" r="5.2" fill="#0000ff"/>
<circle cx="161.5" cy="599.3" r="5.2" fill="#0000ff"/>
<circle cx="239.4" cy="599.8" r="5.2" fill="#0000ff"/>
<circle cx="214.2" cy="607.5" r="5.2" fill="#0000ff"/>
<circle cx="227.6" cy="617.8" r="5.2" fill="#0000ff"/>
<circle cx="296.3" cy="602.2" r="5.2" fill="#0000ff"/>
<circle cx="174.8" cy="621.7" r="5.2" fill="#0000ff"/>
<circle cx="274.1" cy="621.5" r="5.2" fill="#0000ff"/>
<circle cx="150.7" cy="641.8" r="5.2" fill="#0000ff"/>
<circle cx="375.1" cy="577.1" r="5.2" fill="#0000ff"/>
<circle cx="428.9" cy="584.3" r="5.2" fill="#0000ff"/>
<circle cx="359.2" cy="613.8" r="5.2" fill="#0000ff"/>
<circle cx="364.1" cy="611.6" r="5.2" fill="#0000ff"/>
<circle cx="453.2" cy="606.0" r="5.2" fill="#0000ff"/>
<circle cx="449.6" cy="617.9" r="5.2" fill="#0000ff"/>
<circle cx="370.5" cy="645.5" r="5.2" fill="#0000ff"/>
<circle cx="388.9" cy="668.9" r="5.2" fill="#0000ff"/>
<circle cx="408.8" cy="665.3" r="5.2" fill="#0000ff"/>
<circle cx="447.8" cy="719.7" r="5.2" fill="#0000ff"/>
<circle cx="451.6" cy="729.0" r="5.2" fill="#0000ff"/>
<circle cx="439.1" cy="731.6" r="5.2" fill="#0000ff"/>
<circle cx="443.8" cy="732.8" r="5.2" fill="#0000ff"/>
<circle cx="444.4" cy="739.0" r="5.2" fill="#0000ff"/>
<circle cx="247.8" cy="421.3" r="5.2" fill="#5f9ea0"/>
<circle cx="322.0" cy="403.5" r="5.2" fill="#5f9ea0"/>
<circle cx="416.8" cy="417.4" r="5.2" fill="#5f9ea0"/>
<circle cx="398.5" cy="488.8" r="5.2" fill="#5f9ea0"/>
<path d="M117.0,695.5 L120.4,696.8 L123.8,698.1 L127.2,699.3 L130.6,700.5 L134.0,701.7 L137.4,702.9 L140.7,703.9 L144.1,705.0 L147.5,706.0 L150.9,706.9 L154.3,707.7 L157.7,708.5 L161.1,709.3 L164.5,710.1 L167.9,710.8 L171.3,711.5 L174.7,712.1 L178.1,712.7 L181.4,713.3 L184.8,713.9 L188.2,714.4 L191.6,714.9 L195.0,715.4 L198.4,715.8 L201.8,716.2 L205.2,716.6 L208.6,717.0 L212.0,717.5 L215.4,717.9 L218.8,718.2 L222.1,718.5 L225.5,718.8 L228.9,719.0 L232.3,719.0 L235.7,719.0 L239.1,718.8 L242.5,718.6 L245.9,718.4 L249.3,718.1 L252.7,717.7 L256.1,717.3 L259.5,716.9 L262.9,716.4 L266.2,715.9 L269.6,715.4 L273.0,714.8 L276.4,714.1 L279.8,713.4 L283.2,712.6 L286.6,711.8 L290.0,710.8 L293.4,709.8 L296.8,708.6 L300.2,707.3 L303.6,705.9 L306.9,704.5 L310.3,703.0 L313.7,701.4 L317.1,699.7 L320.5,698.1 L323.9,696.4 L327.3,694.6 L330.7,692.8 L334.1,690.9 L337.5,688.9 L340.9,687.0 L344.3,685.0 L347.7,682.9 L351.0,680.9 L354.4,678.9 L357.8,676.8 L361.2,674.7 L364.6,672.6 L368.0,670.4 L371.4,668.2 L374.8,666.0 L378.2,663.7 L381.6,661.3 L385.0,658.9 L388.4,656.3 L391.7,653.8 L395.1,651.1 L398.5,648.5 L401.9,645.8 L405.3,643.0 L408.7,640.3 L412.1,637.5 L415.5,634.7 L418.9,631.9 L422.3,629.0 L425.7,626.1 L429.1,623.2 L432.4,620.2 L435.8,617.3 L439.2,614.3 L442.6,611.4 L446.0,608.4 L449.4,605.4 L452.8,602.5 L452.8,658.5 L449.4,659.3 L446.0,660.3 L442.6,661.2 L439.2,662.3 L435.8,663.4 L432.4,664.6 L429.1,665.8 L425.7,667.1 L422.3,668.4 L418.9,669.8 L415.5,671.2 L412.1,672.7 L408.7,674.2 L405.3,675.7 L401.9,677.2 L398.5,678.8 L395.1,680.3 L391.7,681.9 L388.4,683.5 L385.0,685.2 L381.6,686.9 L378.2,688.6 L374.8,690.3 L371.4,692.0 L368.0,693.8 L364.6,695.5 L361.2,697.2 L357.8,698.9 L354.4,700.6 L351.0,702.1 L347.7,703.7 L344.3,705.1 L340.9,706.6 L337.5,707.9 L334.1,709.2 L330.7,710.5 L327.3,711.8 L323.9,713.0 L320.5,714.2 L317.1,715.3 L313.7,716.4 L310.3,717.5 L306.9,718.4 L303.6,719.4 L300.2,720.4 L296.8,721.3 L293.4,722.3 L290.0,723.2 L286.6,724.2 L283.2,725.2 L279.8,726.1 L276.4,727.1 L273.0,727.9 L269.6,728.8 L266.2,729.5 L262.9,730.3 L259.5,730.9 L256.1,731.5 L252.7,732.0 L249.3,732.5 L245.9,732.9 L242.5,733.3 L239.1,733.6 L235.7,733.9 L232.3,734.3 L228.9,734.6 L225.5,735.0 L222.1,735.3 L218.8,735.7 L215.4,736.0 L212.0,736.2 L208.6,736.5 L205.2,736.6 L201.8,736.7 L198.4,736.7 L195.0,736.7 L191.6,736.7 L188.2,736.6 L184.8,736.5 L181.4,736.4 L178.1,736.3 L174.7,736.2 L171.3,736.1 L167.9,735.9 L164.5,735.8 L161.1,735.7 L157.7,735.7 L154.3,735.6 L150.9,735.6 L147.5,735.7 L144.1,735.8 L140.7,736.0 L137.4,736.3 L134.0,736.6 L130.6,737.1 L127.2,737.6 L123.8,738.1 L120.4,738.8 L117.0,739.5 Z" fill="rgb(150,150,150)" fill-opacity="0.38"/>
<path d="M117.0,717.5 L120.4,717.8 L123.8,718.1 L127.2,718.4 L130.6,718.8 L134.0,719.2 L137.4,719.6 L140.7,720.0 L144.1,720.4 L147.5,720.8 L150.9,721.3 L154.3,721.7 L157.7,722.1 L161.1,722.5 L164.5,723.0 L167.9,723.4 L171.3,723.8 L174.7,724.1 L178.1,724.5 L181.4,724.9 L184.8,725.2 L188.2,725.5 L191.6,725.8 L195.0,726.0 L198.4,726.3 L201.8,726.5 L205.2,726.6 L208.6,726.8 L212.0,726.9 L215.4,726.9 L218.8,726.9 L222.1,726.9 L225.5,726.9 L228.9,726.8 L232.3,726.6 L235.7,726.5 L239.1,726.2 L242.5,726.0 L245.9,725.6 L249.3,725.3 L252.7,724.9 L256.1,724.4 L259.5,723.9 L262.9,723.3 L266.2,722.7 L269.6,722.1 L273.0,721.4 L276.4,720.6 L279.8,719.8 L283.2,718.9 L286.6,718.0 L290.0,717.0 L293.4,716.0 L296.8,715.0 L300.2,713.8 L303.6,712.7 L306.9,711.5 L310.3,710.2 L313.7,708.9 L317.1,707.5 L320.5,706.1 L323.9,704.7 L327.3,703.2 L330.7,701.6 L334.1,700.1 L337.5,698.4 L340.9,696.8 L344.3,695.1 L347.7,693.3 L351.0,691.5 L354.4,689.7 L357.8,687.9 L361.2,686.0 L364.6,684.1 L368.0,682.1 L371.4,680.1 L374.8,678.1 L378.2,676.1 L381.6,674.1 L385.0,672.0 L388.4,669.9 L391.7,667.8 L395.1,665.7 L398.5,663.6 L401.9,661.5 L405.3,659.4 L408.7,657.2 L412.1,655.1 L415.5,652.9 L418.9,650.8 L422.3,648.7 L425.7,646.6 L429.1,644.5 L432.4,642.4 L435.8,640.3 L439.2,638.3 L442.6,636.3 L446.0,634.3 L449.4,632.4 L452.8,630.5" fill="none" stroke="#333" stroke-width="1"/>
<path d="M100.5,421.3H111.5M247.8,746V757M100.5,403.5H111.5M322.0,746V757M100.5,417.4H111.5M416.8,746V757M100.5,488.8H111.5M398.5,746V757M100.5,452.6H111.5M272.1,746V757M100.5,478.0H111.5M298.8,746V757M100.5,539.7H111.5M260.3,746V757M100.5,444.6H111.5M346.3,746V757M100.5,507.1H111.5M307.3,746V757M100.5,566.5H111.5M245.6,746V757M100.5,576.8H111.5M282.7,746V757M100.5,572.8H111.5M288.5,746V757M100.5,584.9H111.5M262.1,746V757M100.5,592.3H111.5M268.0,746V757M100.5,599.3H111.5M161.5,746V757M100.5,599.8H111.5M239.4,746V757M100.5,607.5H111.5M214.2,746V757M100.5,617.8H111.5M227.6,746V757M100.5,602.2H111.5M296.3,746V757M100.5,621.7H111.5M174.8,746V757M100.5,621.5H111.5M274.1,746V757M100.5,641.8H111.5M150.7,746V757M100.5,577.1H111.5M375.1,746V757M100.5,584.3H111.5M428.9,746V757M100.5,613.8H111.5M359.2,746V757M100.5,611.6H111.5M364.1,746V757M100.5,606.0H111.5M453.2,746V757M100.5,617.9H111.5M449.6,746V757M100.5,645.5H111.5M370.5,746V757M100.5,668.9H111.5M388.9,746V757M100.5,665.3H111.5M408.8,746V757M100.5,719.7H111.5M447.8,746V757M100.5,729.0H111.5M451.6,746V757M100.5,731.6H111.5M439.1,746V757M100.5,732.8H111.5M443.8,746V757M100.5,739.0H111.5M444.4,746V757M100.5,631.5H111.5M285.9,746V757M100.5,642.4H111.5M260.6,746V757M100.5,654.1H111.5M295.9,746V757M100.5,655.3H111.5M302.5,746V757M100.5,657.9H111.5M256.5,746V757M100.5,664.1H111.5M279.4,746V757M100.5,669.7H111.5M262.5,746V757M100.5,672.6H111.5M276.5,746V757M100.5,671.2H111.5M284.1,746V757M100.5,673.2H111.5M290.0,746V757M100.5,686.9H111.5M295.9,746V757M100.5,686.9H111.5M316.5,746V757M100.5,696.8H111.5M295.6,746V757M100.5,696.8H111.5M314.3,746V757M100.5,704.7H111.5M301.9,746V757M100.5,718.8H111.5M302.4,746V757M100.5,633.1H111.5M338.7,746V757M100.5,641.9H111.5M358.6,746V757M100.5,669.5H111.5M374.6,746V757M100.5,682.5H111.5M353.1,746V757M100.5,689.3H111.5M336.0,746V757M100.5,711.2H111.5M351.6,746V757M100.5,714.0H111.5M361.1,746V757M100.5,723.9H111.5M331.4,746V757M100.5,730.6H111.5M333.8,746V757M100.5,738.4H111.5M340.6,746V757M100.5,739.4H111.5M343.8,746V757M100.5,739.4H111.5M355.3,746V757M100.5,667.5H111.5M167.1,746V757M100.5,676.5H111.5M126.2,746V757M100.5,689.4H111.5M129.8,746V757M100.5,686.8H111.5M184.1,746V757M100.5,683.4H111.5M203.9,746V757M100.5,697.1H111.5M192.3,746V757M100.5,697.1H111.5M200.6,746V757M100.5,705.4H111.5M205.9,746V757M100.5,715.7H111.5M211.8,746V757M100.5,715.3H111.5M218.4,746V757M100.5,707.6H111.5M223.5,746V757M100.5,711.3H111.5M231.6,746V757M100.5,711.0H111.5M157.6,746V757M100.5,723.2H111.5M142.9,746V757M100.5,726.8H111.5M220.9,746V757M100.5,730.9H111.5M208.8,746V757M100.5,730.4H111.5M180.9,746V757M100.5,730.4H111.5M186.8,746V757M100.5,734.1H111.5M195.6,746V757M100.5,739.0H111.5M116.0,746V757M100.5,736.8H111.5M119.7,746V757M100.5,737.5H111.5M128.5,746V757M100.5,734.6H111.5M137.4,746V757M100.5,739.0H111.5M146.2,746V757M100.5,736.8H111.5M151.3,746V757M100.5,739.0H111.5M160.9,746V757M100.5,739.0H111.5M168.2,746V757M100.5,739.3H111.5M175.0,746V757M100.5,739.3H111.5M181.0,746V757M100.5,739.3H111.5M187.0,746V757M100.5,739.3H111.5M193.0,746V757M100.5,739.3H111.5M201.1,746V757M100.5,739.3H111.5M209.9,746V757M100.5,739.3H111.5M219.1,746V757M100.5,739.3H111.5M233.8,746V757M100.5,739.5H111.5M299.3,746V757M100.5,739.5H111.5M304.8,746V757M100.5,719.3H111.5M303.1,746V757M100.5,727.0H111.5M301.8,746V757M100.5,736.0H111.5M303.1,746V757M100.5,738.0H111.5M294.0,746V757M100.5,703.9H111.5M301.1,746V757M100.5,710.5H111.5M258.7,746V757M100.5,713.0H111.5M264.5,746V757M100.5,717.0H111.5M270.5,746V757M100.5,717.0H111.5M258.0,746V757M100.5,723.0H111.5M258.0,746V757M100.5,721.0H111.5M264.0,746V757M100.5,722.0H111.5M270.0,746V757M100.5,728.0H111.5M256.0,746V757M100.5,728.0H111.5M263.0,746V757M100.5,727.5H111.5M270.0,746V757M100.5,736.0H111.5M250.0,746V757M100.5,738.5H111.5M248.6,746V757M100.5,739.0H111.5M255.0,746V757M100.5,739.0H111.5M262.0,746V757M100.5,739.0H111.5M269.0,746V757M100.5,739.0H111.5M276.0,746V757M100.5,739.0H111.5M283.0,746V757M100.5,739.0H111.5M290.0,746V757M100.5,734.0H111.5M277.5,746V757M100.5,731.0H111.5M285.0,746V757M100.5,726.0H111.5M291.5,746V757M100.5,733.0H111.5M288.0,746V757M100.5,732.0H111.5M293.0,746V757M249.6,746V757M250.8,746V757M252.8,746V757M254.8,746V757M256.1,746V757M258.1,746V757M259.3,746V757M261.4,746V757M263.4,746V757M264.6,746V757M266.6,746V757M267.9,746V757M269.9,746V757M271.1,746V757M273.2,746V757M275.2,746V757M276.4,746V757M278.4,746V757M279.7,746V757M281.7,746V757M283.7,746V757M284.9,746V757M287.0,746V757M288.2,746V757M290.2,746V757M292.3,746V757M293.5,746V757M295.5,746V757M296.7,746V757M298.8,746V757M100.5,706.0H111.5M100.5,709.0H111.5M100.5,713.0H111.5M100.5,716.0H111.5M100.5,719.0H111.5M100.5,724.0H111.5M100.5,729.0H111.5M100.5,733.0H111.5M100.5,736.0H111.5M100.5,741.0H111.5M100.5,743.0H111.5" stroke="#555" stroke-width="0.8" fill="none"/>
<path d="M100.5,403V757.5H470" stroke="#777" stroke-width="1.1" fill="none"/>
<path d="M97.5,739.0H100.5" stroke="#555" stroke-width="1"/>
<text x="91.4" y="744.3" class="tk" text-anchor="middle">0</text>
<path d="M97.5,661.0H100.5" stroke="#555" stroke-width="1"/>
<text x="91.4" y="666.3" class="tk" text-anchor="middle">1</text>
<path d="M97.5,583.0H100.5" stroke="#555" stroke-width="1"/>
<text x="91.4" y="588.3" class="tk" text-anchor="middle">2</text>
<path d="M97.5,505.8H100.5" stroke="#555" stroke-width="1"/>
<text x="91.4" y="511.1" class="tk" text-anchor="middle">3</text>
<path d="M97.5,425.8H100.5" stroke="#555" stroke-width="1"/>
<text x="91.4" y="431.1" class="tk" text-anchor="middle">4</text>
<path d="M197.9,757.5V760" stroke="#555" stroke-width="1"/>
<text x="197.9" y="772" class="tk" text-anchor="middle">1</text>
<path d="M328.8,757.5V760" stroke="#555" stroke-width="1"/>
<text x="328.8" y="772" class="tk" text-anchor="middle">2</text>
<path d="M461.2,757.5V760" stroke="#555" stroke-width="1"/>
<text x="461.2" y="772" class="tk" text-anchor="middle">3</text>
<text x="23.5" y="48.3" font-size="58" textLength="36" lengthAdjust="spacingAndGlyphs" stroke="#000" stroke-width="0.5">A</text>
<text x="20.5" y="388.9" font-size="57.6" textLength="33" lengthAdjust="spacingAndGlyphs" stroke="#000" stroke-width="0.6">B</text>
<text x="144.7" y="342" font-size="18.1" textLength="104.4" lengthAdjust="spacingAndGlyphs">Rainfall (cm)</text>
<text transform="translate(509.5,160.5) rotate(93)" x="0" y="0" font-size="20" textLength="110" lengthAdjust="spacingAndGlyphs">Elevation (m)</text>
<text x="102.6" y="392.6" font-size="19.6" textLength="114" lengthAdjust="spacingAndGlyphs">Probability =</text>
<circle cx="235.7" cy="384.4" r="7" fill="#ff0000"/>
<text x="247.7" y="390.6" font-size="17.6" textLength="33.4" lengthAdjust="spacingAndGlyphs">50%</text>
<circle cx="294.8" cy="384.4" r="7" fill="#0f1f5f"/>
<text x="306.4" y="390.6" font-size="17.6" textLength="34.1" lengthAdjust="spacingAndGlyphs">90%</text>
<circle cx="352.9" cy="384.9" r="7" fill="#0000ff"/>
<text x="364.4" y="390.6" font-size="17.6" textLength="34.8" lengthAdjust="spacingAndGlyphs">99%</text>
<circle cx="410.3" cy="384.9" r="7" fill="#179e9a"/>
<text x="423.6" y="390.6" font-size="17.6" textLength="43.8" lengthAdjust="spacingAndGlyphs">&gt;99%</text>
<text transform="translate(79,756) rotate(-90)" x="0" y="0" font-size="18.7" textLength="372" lengthAdjust="spacingAndGlyphs">Year 2020: Maximum monthly elevation (m)</text>
<text x="116.3" y="801" font-size="18.6" textLength="314.2" lengthAdjust="spacingAndGlyphs">Year 2020: Total monthly rainfall (cm)</text>
</svg></body></html>
